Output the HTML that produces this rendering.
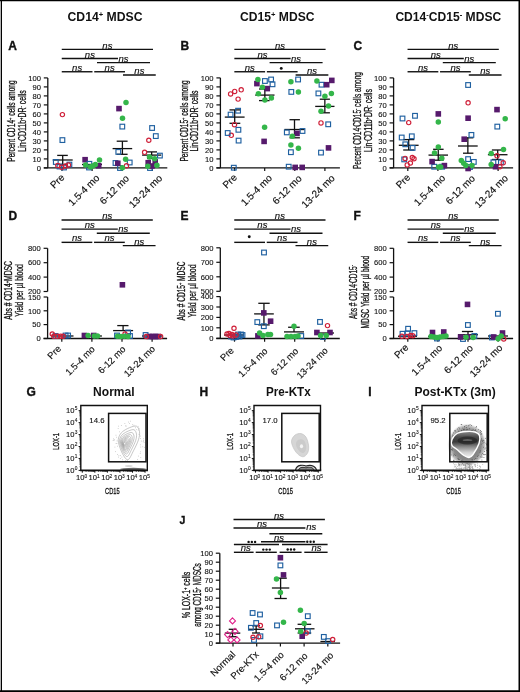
<!DOCTYPE html><html><head><meta charset="utf-8"><style>html,body{margin:0;padding:0;background:#fff;}svg{display:block;will-change:transform;}</style></head><body>
<svg width="520" height="692" viewBox="0 0 520 692" font-family='"Liberation Sans", sans-serif' fill="#111">
<rect width="520" height="692" fill="#fff"/>
<line x1="1.35" y1="0" x2="1.35" y2="692" stroke="#000" stroke-width="1.3"/>
<line x1="0" y1="0.55" x2="520" y2="0.55" stroke="#000" stroke-width="1.2"/>
<line x1="519.25" y1="0" x2="519.25" y2="692" stroke="#000" stroke-width="1.5"/>
<line x1="0" y1="691.1" x2="520" y2="691.1" stroke="#000" stroke-width="1.8"/>
<text x="67.5" y="21.3" font-size="12" font-weight="bold" textLength="75" lengthAdjust="spacingAndGlyphs">CD14<tspan font-size="7.5" dy="-4">+</tspan><tspan dy="4"> MDSC</tspan></text>
<text x="240" y="21.3" font-size="12" font-weight="bold" textLength="74.5" lengthAdjust="spacingAndGlyphs">CD15<tspan font-size="7.5" dy="-4">+</tspan><tspan dy="4"> MDSC</tspan></text>
<text x="395.4" y="21.3" font-size="12" font-weight="bold" textLength="105.8" lengthAdjust="spacingAndGlyphs">CD14<tspan font-size="7.5" dy="-4">-</tspan><tspan dy="4">CD15</tspan><tspan font-size="7.5" dy="-4">-</tspan><tspan dy="4"> MDSC</tspan></text>
<text x="8.2" y="49.6" font-size="12" font-weight="bold" stroke="#111" stroke-width="0.35">A</text>
<text x="180.6" y="49.5" font-size="12" font-weight="bold" stroke="#111" stroke-width="0.35">B</text>
<text x="353.6" y="49.5" font-size="12" font-weight="bold" stroke="#111" stroke-width="0.35">C</text>
<text x="8.6" y="220.2" font-size="12" font-weight="bold" stroke="#111" stroke-width="0.35">D</text>
<text x="180.6" y="220.2" font-size="12" font-weight="bold" stroke="#111" stroke-width="0.35">E</text>
<text x="353.6" y="220.2" font-size="12" font-weight="bold" stroke="#111" stroke-width="0.35">F</text>
<text x="26.6" y="396.3" font-size="12" font-weight="bold" stroke="#111" stroke-width="0.35">G</text>
<text x="199.6" y="396.3" font-size="12" font-weight="bold" stroke="#111" stroke-width="0.35">H</text>
<text x="368.3" y="396.3" font-size="12" font-weight="bold" stroke="#111" stroke-width="0.35">I</text>
<text x="179.6" y="524.4" font-size="10.5" font-weight="bold" stroke="#111" stroke-width="0.35">J</text>
<line x1="47.8" y1="77.9" x2="47.8" y2="167.9" stroke="#111" stroke-width="1.3"/>
<line x1="43.8" y1="167.9" x2="47.8" y2="167.9" stroke="#111" stroke-width="1.2"/>
<text x="40.9" y="170.6" font-size="7.6" text-anchor="end" stroke="#111" stroke-width="0.12">0</text>
<line x1="43.8" y1="158.9" x2="47.8" y2="158.9" stroke="#111" stroke-width="1.2"/>
<text x="40.9" y="161.6" font-size="7.6" text-anchor="end" stroke="#111" stroke-width="0.12">10</text>
<line x1="43.8" y1="149.9" x2="47.8" y2="149.9" stroke="#111" stroke-width="1.2"/>
<text x="40.9" y="152.6" font-size="7.6" text-anchor="end" stroke="#111" stroke-width="0.12">20</text>
<line x1="43.8" y1="140.9" x2="47.8" y2="140.9" stroke="#111" stroke-width="1.2"/>
<text x="40.9" y="143.6" font-size="7.6" text-anchor="end" stroke="#111" stroke-width="0.12">30</text>
<line x1="43.8" y1="131.9" x2="47.8" y2="131.9" stroke="#111" stroke-width="1.2"/>
<text x="40.9" y="134.6" font-size="7.6" text-anchor="end" stroke="#111" stroke-width="0.12">40</text>
<line x1="43.8" y1="122.9" x2="47.8" y2="122.9" stroke="#111" stroke-width="1.2"/>
<text x="40.9" y="125.6" font-size="7.6" text-anchor="end" stroke="#111" stroke-width="0.12">50</text>
<line x1="43.8" y1="113.9" x2="47.8" y2="113.9" stroke="#111" stroke-width="1.2"/>
<text x="40.9" y="116.6" font-size="7.6" text-anchor="end" stroke="#111" stroke-width="0.12">60</text>
<line x1="43.8" y1="104.9" x2="47.8" y2="104.9" stroke="#111" stroke-width="1.2"/>
<text x="40.9" y="107.6" font-size="7.6" text-anchor="end" stroke="#111" stroke-width="0.12">70</text>
<line x1="43.8" y1="95.9" x2="47.8" y2="95.9" stroke="#111" stroke-width="1.2"/>
<text x="40.9" y="98.6" font-size="7.6" text-anchor="end" stroke="#111" stroke-width="0.12">80</text>
<line x1="43.8" y1="86.9" x2="47.8" y2="86.9" stroke="#111" stroke-width="1.2"/>
<text x="40.9" y="89.6" font-size="7.6" text-anchor="end" stroke="#111" stroke-width="0.12">90</text>
<line x1="43.8" y1="77.9" x2="47.8" y2="77.9" stroke="#111" stroke-width="1.2"/>
<text x="40.9" y="80.6" font-size="7.6" text-anchor="end" stroke="#111" stroke-width="0.12">100</text>
<line x1="43.8" y1="167.9" x2="167.3" y2="167.9" stroke="#111" stroke-width="1.3"/>
<line x1="62" y1="167.9" x2="62" y2="171.1" stroke="#111" stroke-width="1.2"/>
<line x1="92.1" y1="167.9" x2="92.1" y2="171.1" stroke="#111" stroke-width="1.2"/>
<line x1="122.2" y1="167.9" x2="122.2" y2="171.1" stroke="#111" stroke-width="1.2"/>
<line x1="152.3" y1="167.9" x2="152.3" y2="171.1" stroke="#111" stroke-width="1.2"/>
<text x="65.2" y="178.1" font-size="10" text-anchor="end" transform="rotate(-45 65.2 178.1)" stroke="#111" stroke-width="0.15">Pre</text>
<text x="100.2" y="178.6" font-size="10" text-anchor="end" transform="rotate(-45 100.2 178.6)" stroke="#111" stroke-width="0.15">1.5-4 mo</text>
<text x="129.8" y="179.1" font-size="10" text-anchor="end" transform="rotate(-45 129.8 179.1)" stroke="#111" stroke-width="0.15">6-12 mo</text>
<text x="162.9" y="178.7" font-size="10" text-anchor="end" transform="rotate(-45 162.9 178.7)" stroke="#111" stroke-width="0.15">13-24 mo</text>
<line x1="220.4" y1="77.9" x2="220.4" y2="167.9" stroke="#111" stroke-width="1.3"/>
<line x1="216.4" y1="167.9" x2="220.4" y2="167.9" stroke="#111" stroke-width="1.2"/>
<text x="213.5" y="170.6" font-size="7.6" text-anchor="end" stroke="#111" stroke-width="0.12">0</text>
<line x1="216.4" y1="158.9" x2="220.4" y2="158.9" stroke="#111" stroke-width="1.2"/>
<text x="213.5" y="161.6" font-size="7.6" text-anchor="end" stroke="#111" stroke-width="0.12">10</text>
<line x1="216.4" y1="149.9" x2="220.4" y2="149.9" stroke="#111" stroke-width="1.2"/>
<text x="213.5" y="152.6" font-size="7.6" text-anchor="end" stroke="#111" stroke-width="0.12">20</text>
<line x1="216.4" y1="140.9" x2="220.4" y2="140.9" stroke="#111" stroke-width="1.2"/>
<text x="213.5" y="143.6" font-size="7.6" text-anchor="end" stroke="#111" stroke-width="0.12">30</text>
<line x1="216.4" y1="131.9" x2="220.4" y2="131.9" stroke="#111" stroke-width="1.2"/>
<text x="213.5" y="134.6" font-size="7.6" text-anchor="end" stroke="#111" stroke-width="0.12">40</text>
<line x1="216.4" y1="122.9" x2="220.4" y2="122.9" stroke="#111" stroke-width="1.2"/>
<text x="213.5" y="125.6" font-size="7.6" text-anchor="end" stroke="#111" stroke-width="0.12">50</text>
<line x1="216.4" y1="113.9" x2="220.4" y2="113.9" stroke="#111" stroke-width="1.2"/>
<text x="213.5" y="116.6" font-size="7.6" text-anchor="end" stroke="#111" stroke-width="0.12">60</text>
<line x1="216.4" y1="104.9" x2="220.4" y2="104.9" stroke="#111" stroke-width="1.2"/>
<text x="213.5" y="107.6" font-size="7.6" text-anchor="end" stroke="#111" stroke-width="0.12">70</text>
<line x1="216.4" y1="95.9" x2="220.4" y2="95.9" stroke="#111" stroke-width="1.2"/>
<text x="213.5" y="98.6" font-size="7.6" text-anchor="end" stroke="#111" stroke-width="0.12">80</text>
<line x1="216.4" y1="86.9" x2="220.4" y2="86.9" stroke="#111" stroke-width="1.2"/>
<text x="213.5" y="89.6" font-size="7.6" text-anchor="end" stroke="#111" stroke-width="0.12">90</text>
<line x1="216.4" y1="77.9" x2="220.4" y2="77.9" stroke="#111" stroke-width="1.2"/>
<text x="213.5" y="80.6" font-size="7.6" text-anchor="end" stroke="#111" stroke-width="0.12">100</text>
<line x1="216.4" y1="167.9" x2="339.9" y2="167.9" stroke="#111" stroke-width="1.3"/>
<line x1="234.6" y1="167.9" x2="234.6" y2="171.1" stroke="#111" stroke-width="1.2"/>
<line x1="264.7" y1="167.9" x2="264.7" y2="171.1" stroke="#111" stroke-width="1.2"/>
<line x1="294.8" y1="167.9" x2="294.8" y2="171.1" stroke="#111" stroke-width="1.2"/>
<line x1="324.9" y1="167.9" x2="324.9" y2="171.1" stroke="#111" stroke-width="1.2"/>
<text x="237.8" y="178.1" font-size="10" text-anchor="end" transform="rotate(-45 237.8 178.1)" stroke="#111" stroke-width="0.15">Pre</text>
<text x="272.8" y="178.6" font-size="10" text-anchor="end" transform="rotate(-45 272.8 178.6)" stroke="#111" stroke-width="0.15">1.5-4 mo</text>
<text x="302.4" y="179.1" font-size="10" text-anchor="end" transform="rotate(-45 302.4 179.1)" stroke="#111" stroke-width="0.15">6-12 mo</text>
<text x="335.5" y="178.7" font-size="10" text-anchor="end" transform="rotate(-45 335.5 178.7)" stroke="#111" stroke-width="0.15">13-24 mo</text>
<line x1="393.6" y1="77.9" x2="393.6" y2="167.9" stroke="#111" stroke-width="1.3"/>
<line x1="389.6" y1="167.9" x2="393.6" y2="167.9" stroke="#111" stroke-width="1.2"/>
<text x="386.7" y="170.6" font-size="7.6" text-anchor="end" stroke="#111" stroke-width="0.12">0</text>
<line x1="389.6" y1="158.9" x2="393.6" y2="158.9" stroke="#111" stroke-width="1.2"/>
<text x="386.7" y="161.6" font-size="7.6" text-anchor="end" stroke="#111" stroke-width="0.12">10</text>
<line x1="389.6" y1="149.9" x2="393.6" y2="149.9" stroke="#111" stroke-width="1.2"/>
<text x="386.7" y="152.6" font-size="7.6" text-anchor="end" stroke="#111" stroke-width="0.12">20</text>
<line x1="389.6" y1="140.9" x2="393.6" y2="140.9" stroke="#111" stroke-width="1.2"/>
<text x="386.7" y="143.6" font-size="7.6" text-anchor="end" stroke="#111" stroke-width="0.12">30</text>
<line x1="389.6" y1="131.9" x2="393.6" y2="131.9" stroke="#111" stroke-width="1.2"/>
<text x="386.7" y="134.6" font-size="7.6" text-anchor="end" stroke="#111" stroke-width="0.12">40</text>
<line x1="389.6" y1="122.9" x2="393.6" y2="122.9" stroke="#111" stroke-width="1.2"/>
<text x="386.7" y="125.6" font-size="7.6" text-anchor="end" stroke="#111" stroke-width="0.12">50</text>
<line x1="389.6" y1="113.9" x2="393.6" y2="113.9" stroke="#111" stroke-width="1.2"/>
<text x="386.7" y="116.6" font-size="7.6" text-anchor="end" stroke="#111" stroke-width="0.12">60</text>
<line x1="389.6" y1="104.9" x2="393.6" y2="104.9" stroke="#111" stroke-width="1.2"/>
<text x="386.7" y="107.6" font-size="7.6" text-anchor="end" stroke="#111" stroke-width="0.12">70</text>
<line x1="389.6" y1="95.9" x2="393.6" y2="95.9" stroke="#111" stroke-width="1.2"/>
<text x="386.7" y="98.6" font-size="7.6" text-anchor="end" stroke="#111" stroke-width="0.12">80</text>
<line x1="389.6" y1="86.9" x2="393.6" y2="86.9" stroke="#111" stroke-width="1.2"/>
<text x="386.7" y="89.6" font-size="7.6" text-anchor="end" stroke="#111" stroke-width="0.12">90</text>
<line x1="389.6" y1="77.9" x2="393.6" y2="77.9" stroke="#111" stroke-width="1.2"/>
<text x="386.7" y="80.6" font-size="7.6" text-anchor="end" stroke="#111" stroke-width="0.12">100</text>
<line x1="389.6" y1="167.9" x2="513.1" y2="167.9" stroke="#111" stroke-width="1.3"/>
<line x1="407.8" y1="167.9" x2="407.8" y2="171.1" stroke="#111" stroke-width="1.2"/>
<line x1="437.9" y1="167.9" x2="437.9" y2="171.1" stroke="#111" stroke-width="1.2"/>
<line x1="468" y1="167.9" x2="468" y2="171.1" stroke="#111" stroke-width="1.2"/>
<line x1="498.1" y1="167.9" x2="498.1" y2="171.1" stroke="#111" stroke-width="1.2"/>
<text x="411" y="178.1" font-size="10" text-anchor="end" transform="rotate(-45 411 178.1)" stroke="#111" stroke-width="0.15">Pre</text>
<text x="446" y="178.6" font-size="10" text-anchor="end" transform="rotate(-45 446 178.6)" stroke="#111" stroke-width="0.15">1.5-4 mo</text>
<text x="475.6" y="179.1" font-size="10" text-anchor="end" transform="rotate(-45 475.6 179.1)" stroke="#111" stroke-width="0.15">6-12 mo</text>
<text x="508.7" y="178.7" font-size="10" text-anchor="end" transform="rotate(-45 508.7 178.7)" stroke="#111" stroke-width="0.15">13-24 mo</text>
<line x1="61.75" y1="49.4" x2="153" y2="49.4" stroke="#111" stroke-width="1.4"/>
<text x="107.38" y="48.5" font-size="9.5" text-anchor="middle" font-style="italic" stroke="#111" stroke-width="0.15">ns</text>
<line x1="61.75" y1="58.5" x2="118" y2="58.5" stroke="#111" stroke-width="1.4"/>
<text x="89.88" y="57.6" font-size="9.5" text-anchor="middle" font-style="italic" stroke="#111" stroke-width="0.15">ns</text>
<line x1="97" y1="62.6" x2="150" y2="62.6" stroke="#111" stroke-width="1.4"/>
<text x="123.5" y="61.7" font-size="9.5" text-anchor="middle" font-style="italic" stroke="#111" stroke-width="0.15">ns</text>
<line x1="61.75" y1="71.75" x2="92.5" y2="71.75" stroke="#111" stroke-width="1.4"/>
<text x="77.12" y="70.85" font-size="9.5" text-anchor="middle" font-style="italic" stroke="#111" stroke-width="0.15">ns</text>
<line x1="94.25" y1="71.75" x2="125" y2="71.75" stroke="#111" stroke-width="1.4"/>
<text x="109.62" y="70.85" font-size="9.5" text-anchor="middle" font-style="italic" stroke="#111" stroke-width="0.15">ns</text>
<line x1="123" y1="75" x2="155.75" y2="75" stroke="#111" stroke-width="1.4"/>
<text x="139.38" y="74.1" font-size="9.5" text-anchor="middle" font-style="italic" stroke="#111" stroke-width="0.15">ns</text>
<line x1="234.35" y1="49.4" x2="325.6" y2="49.4" stroke="#111" stroke-width="1.4"/>
<text x="279.98" y="48.5" font-size="9.5" text-anchor="middle" font-style="italic" stroke="#111" stroke-width="0.15">ns</text>
<line x1="234.35" y1="58.5" x2="290.6" y2="58.5" stroke="#111" stroke-width="1.4"/>
<text x="262.48" y="57.6" font-size="9.5" text-anchor="middle" font-style="italic" stroke="#111" stroke-width="0.15">ns</text>
<line x1="269.6" y1="62.6" x2="322.6" y2="62.6" stroke="#111" stroke-width="1.4"/>
<text x="296.1" y="61.7" font-size="9.5" text-anchor="middle" font-style="italic" stroke="#111" stroke-width="0.15">ns</text>
<line x1="234.35" y1="71.75" x2="265.1" y2="71.75" stroke="#111" stroke-width="1.4"/>
<text x="249.73" y="70.85" font-size="9.5" text-anchor="middle" font-style="italic" stroke="#111" stroke-width="0.15">ns</text>
<line x1="266.85" y1="71.75" x2="297.6" y2="71.75" stroke="#111" stroke-width="1.4"/>
<line x1="295.6" y1="75" x2="328.35" y2="75" stroke="#111" stroke-width="1.4"/>
<text x="311.98" y="74.1" font-size="9.5" text-anchor="middle" font-style="italic" stroke="#111" stroke-width="0.15">ns</text>
<line x1="407.55" y1="49.4" x2="498.8" y2="49.4" stroke="#111" stroke-width="1.4"/>
<text x="453.18" y="48.5" font-size="9.5" text-anchor="middle" font-style="italic" stroke="#111" stroke-width="0.15">ns</text>
<line x1="407.55" y1="58.5" x2="463.8" y2="58.5" stroke="#111" stroke-width="1.4"/>
<text x="435.68" y="57.6" font-size="9.5" text-anchor="middle" font-style="italic" stroke="#111" stroke-width="0.15">ns</text>
<line x1="442.8" y1="62.6" x2="495.8" y2="62.6" stroke="#111" stroke-width="1.4"/>
<text x="469.3" y="61.7" font-size="9.5" text-anchor="middle" font-style="italic" stroke="#111" stroke-width="0.15">ns</text>
<line x1="407.55" y1="71.75" x2="438.3" y2="71.75" stroke="#111" stroke-width="1.4"/>
<text x="422.93" y="70.85" font-size="9.5" text-anchor="middle" font-style="italic" stroke="#111" stroke-width="0.15">ns</text>
<line x1="440.05" y1="71.75" x2="470.8" y2="71.75" stroke="#111" stroke-width="1.4"/>
<text x="455.43" y="70.85" font-size="9.5" text-anchor="middle" font-style="italic" stroke="#111" stroke-width="0.15">ns</text>
<line x1="468.8" y1="75" x2="501.55" y2="75" stroke="#111" stroke-width="1.4"/>
<text x="485.18" y="74.1" font-size="9.5" text-anchor="middle" font-style="italic" stroke="#111" stroke-width="0.15">ns</text>
<text x="15.4" y="121" font-size="10.3" text-anchor="middle" transform="rotate(-90 15.4 121)" textLength="81.6" lengthAdjust="spacingAndGlyphs" stroke="#111" stroke-width="0.3">Percent CD14<tspan font-size="6" dy="-3">+</tspan><tspan dy="3"> cells among</tspan></text>
<text x="25.8" y="121" font-size="10.3" text-anchor="middle" transform="rotate(-90 25.8 121)" textLength="61.5" lengthAdjust="spacingAndGlyphs" stroke="#111" stroke-width="0.3">Lin<tspan font-size="6" dy="-3">-</tspan><tspan dy="3">CD11b</tspan><tspan font-size="6" dy="-3">+</tspan><tspan dy="3">DR</tspan><tspan font-size="6" dy="-3">-</tspan><tspan dy="3"> cells</tspan></text>
<text x="188" y="121" font-size="10.3" text-anchor="middle" transform="rotate(-90 188 121)" textLength="81.2" lengthAdjust="spacingAndGlyphs" stroke="#111" stroke-width="0.3">Percent CD15<tspan font-size="6" dy="-3">+</tspan><tspan dy="3"> cells among</tspan></text>
<text x="198.4" y="121" font-size="10.3" text-anchor="middle" transform="rotate(-90 198.4 121)" textLength="61" lengthAdjust="spacingAndGlyphs" stroke="#111" stroke-width="0.3">Lin<tspan font-size="6" dy="-3">-</tspan><tspan dy="3">CD11b</tspan><tspan font-size="6" dy="-3">+</tspan><tspan dy="3">DR</tspan><tspan font-size="6" dy="-3">-</tspan><tspan dy="3"> cells</tspan></text>
<text x="361.2" y="120.5" font-size="10.3" text-anchor="middle" transform="rotate(-90 361.2 120.5)" textLength="97" lengthAdjust="spacingAndGlyphs" stroke="#111" stroke-width="0.3">Percent CD14<tspan font-size="6" dy="-3">-</tspan><tspan dy="3">CD15</tspan><tspan font-size="6" dy="-3">-</tspan><tspan dy="3"> cells among</tspan></text>
<text x="371.6" y="120.5" font-size="10.3" text-anchor="middle" transform="rotate(-90 371.6 120.5)" textLength="63" lengthAdjust="spacingAndGlyphs" stroke="#111" stroke-width="0.3">Lin<tspan font-size="6" dy="-3">-</tspan><tspan dy="3">CD11b</tspan><tspan font-size="6" dy="-3">+</tspan><tspan dy="3">DR</tspan><tspan font-size="6" dy="-3">-</tspan><tspan dy="3"> cells</tspan></text>
<line x1="62.7" y1="155.4" x2="62.7" y2="160" stroke="#111" stroke-width="1.3"/>
<line x1="57.2" y1="155.4" x2="67.8" y2="155.4" stroke="#111" stroke-width="1.3"/>
<line x1="62.7" y1="160" x2="62.7" y2="164.5" stroke="#111" stroke-width="1.3"/>
<line x1="57.2" y1="164.5" x2="67.8" y2="164.5" stroke="#111" stroke-width="1.3"/>
<line x1="52.7" y1="160" x2="72.7" y2="160" stroke="#111" stroke-width="1.3"/>
<line x1="82" y1="164.5" x2="102" y2="164.5" stroke="#111" stroke-width="1.3"/>
<line x1="122.4" y1="141.2" x2="122.4" y2="148.6" stroke="#111" stroke-width="1.3"/>
<line x1="116.7" y1="141.2" x2="127.6" y2="141.2" stroke="#111" stroke-width="1.3"/>
<line x1="122.4" y1="148.6" x2="122.4" y2="154.3" stroke="#111" stroke-width="1.3"/>
<line x1="116.7" y1="154.3" x2="127.6" y2="154.3" stroke="#111" stroke-width="1.3"/>
<line x1="112.6" y1="148.6" x2="132.2" y2="148.6" stroke="#111" stroke-width="1.3"/>
<line x1="151.65" y1="151.9" x2="151.65" y2="155.1" stroke="#111" stroke-width="1.3"/>
<line x1="147" y1="151.9" x2="157" y2="151.9" stroke="#111" stroke-width="1.3"/>
<line x1="151.65" y1="155.1" x2="151.65" y2="158.5" stroke="#111" stroke-width="1.3"/>
<line x1="147" y1="158.5" x2="157" y2="158.5" stroke="#111" stroke-width="1.3"/>
<line x1="142.1" y1="155.1" x2="161.2" y2="155.1" stroke="#111" stroke-width="1.3"/>
<line x1="234.7" y1="109.9" x2="234.7" y2="117.1" stroke="#111" stroke-width="1.3"/>
<line x1="229.5" y1="109.9" x2="240.3" y2="109.9" stroke="#111" stroke-width="1.3"/>
<line x1="234.7" y1="117.1" x2="234.7" y2="123.3" stroke="#111" stroke-width="1.3"/>
<line x1="229.5" y1="123.3" x2="240.3" y2="123.3" stroke="#111" stroke-width="1.3"/>
<line x1="224.8" y1="117.1" x2="244.6" y2="117.1" stroke="#111" stroke-width="1.3"/>
<line x1="264.85" y1="89" x2="264.85" y2="95.1" stroke="#111" stroke-width="1.3"/>
<line x1="259" y1="89" x2="269.6" y2="89" stroke="#111" stroke-width="1.3"/>
<line x1="264.85" y1="95.1" x2="264.85" y2="100.6" stroke="#111" stroke-width="1.3"/>
<line x1="259" y1="100.6" x2="269.6" y2="100.6" stroke="#111" stroke-width="1.3"/>
<line x1="255.2" y1="95.1" x2="274.5" y2="95.1" stroke="#111" stroke-width="1.3"/>
<line x1="294.5" y1="119.7" x2="294.5" y2="129.5" stroke="#111" stroke-width="1.3"/>
<line x1="289.5" y1="119.7" x2="299.9" y2="119.7" stroke="#111" stroke-width="1.3"/>
<line x1="294.5" y1="129.5" x2="294.5" y2="137.8" stroke="#111" stroke-width="1.3"/>
<line x1="289.5" y1="137.8" x2="299.9" y2="137.8" stroke="#111" stroke-width="1.3"/>
<line x1="284.4" y1="129.5" x2="304.6" y2="129.5" stroke="#111" stroke-width="1.3"/>
<line x1="324.85" y1="99.2" x2="324.85" y2="106.4" stroke="#111" stroke-width="1.3"/>
<line x1="319.8" y1="99.2" x2="329.9" y2="99.2" stroke="#111" stroke-width="1.3"/>
<line x1="324.85" y1="106.4" x2="324.85" y2="112.8" stroke="#111" stroke-width="1.3"/>
<line x1="319.8" y1="112.8" x2="329.9" y2="112.8" stroke="#111" stroke-width="1.3"/>
<line x1="315.2" y1="106.4" x2="334.5" y2="106.4" stroke="#111" stroke-width="1.3"/>
<line x1="408.7" y1="139.6" x2="408.7" y2="145.3" stroke="#111" stroke-width="1.3"/>
<line x1="403.2" y1="139.6" x2="414.3" y2="139.6" stroke="#111" stroke-width="1.3"/>
<line x1="408.7" y1="145.3" x2="408.7" y2="150" stroke="#111" stroke-width="1.3"/>
<line x1="403.2" y1="150" x2="414.3" y2="150" stroke="#111" stroke-width="1.3"/>
<line x1="398.8" y1="145.3" x2="418.6" y2="145.3" stroke="#111" stroke-width="1.3"/>
<line x1="438.25" y1="149.3" x2="438.25" y2="155.1" stroke="#111" stroke-width="1.3"/>
<line x1="433.1" y1="149.3" x2="443.6" y2="149.3" stroke="#111" stroke-width="1.3"/>
<line x1="438.25" y1="155.1" x2="438.25" y2="160.2" stroke="#111" stroke-width="1.3"/>
<line x1="433.1" y1="160.2" x2="443.6" y2="160.2" stroke="#111" stroke-width="1.3"/>
<line x1="428.5" y1="155.1" x2="448" y2="155.1" stroke="#111" stroke-width="1.3"/>
<line x1="467.85" y1="137.8" x2="467.85" y2="146" stroke="#111" stroke-width="1.3"/>
<line x1="463" y1="137.8" x2="473.4" y2="137.8" stroke="#111" stroke-width="1.3"/>
<line x1="467.85" y1="146" x2="467.85" y2="153.2" stroke="#111" stroke-width="1.3"/>
<line x1="463" y1="153.2" x2="473.4" y2="153.2" stroke="#111" stroke-width="1.3"/>
<line x1="458" y1="146" x2="477.7" y2="146" stroke="#111" stroke-width="1.3"/>
<line x1="497.7" y1="150" x2="497.7" y2="154.7" stroke="#111" stroke-width="1.3"/>
<line x1="491.9" y1="150" x2="501.3" y2="150" stroke="#111" stroke-width="1.3"/>
<line x1="497.7" y1="154.7" x2="497.7" y2="159.5" stroke="#111" stroke-width="1.3"/>
<line x1="491.9" y1="159.5" x2="501.3" y2="159.5" stroke="#111" stroke-width="1.3"/>
<line x1="487.9" y1="154.7" x2="507.5" y2="154.7" stroke="#111" stroke-width="1.3"/>
<line x1="47.6" y1="248.3" x2="47.6" y2="291.5" stroke="#111" stroke-width="1.3"/>
<line x1="47.6" y1="297" x2="47.6" y2="338.5" stroke="#111" stroke-width="1.3"/>
<line x1="43.6" y1="248.3" x2="47.6" y2="248.3" stroke="#111" stroke-width="1.2"/>
<text x="40.7" y="251" font-size="7.6" text-anchor="end" stroke="#111" stroke-width="0.12">800</text>
<line x1="43.6" y1="262.7" x2="47.6" y2="262.7" stroke="#111" stroke-width="1.2"/>
<text x="40.7" y="265.4" font-size="7.6" text-anchor="end" stroke="#111" stroke-width="0.12">600</text>
<line x1="43.6" y1="277.1" x2="47.6" y2="277.1" stroke="#111" stroke-width="1.2"/>
<text x="40.7" y="279.8" font-size="7.6" text-anchor="end" stroke="#111" stroke-width="0.12">400</text>
<line x1="43.6" y1="291.5" x2="47.6" y2="291.5" stroke="#111" stroke-width="1.2"/>
<text x="40.7" y="294.2" font-size="7.6" text-anchor="end" stroke="#111" stroke-width="0.12">200</text>
<line x1="43.6" y1="297" x2="47.6" y2="297" stroke="#111" stroke-width="1.2"/>
<text x="40.7" y="299.7" font-size="7.6" text-anchor="end" stroke="#111" stroke-width="0.12">150</text>
<line x1="43.6" y1="310.8" x2="47.6" y2="310.8" stroke="#111" stroke-width="1.2"/>
<text x="40.7" y="313.5" font-size="7.6" text-anchor="end" stroke="#111" stroke-width="0.12">100</text>
<line x1="43.6" y1="324.6" x2="47.6" y2="324.6" stroke="#111" stroke-width="1.2"/>
<text x="40.7" y="327.3" font-size="7.6" text-anchor="end" stroke="#111" stroke-width="0.12">50</text>
<line x1="43.6" y1="338.5" x2="47.6" y2="338.5" stroke="#111" stroke-width="1.2"/>
<text x="40.7" y="341.2" font-size="7.6" text-anchor="end" stroke="#111" stroke-width="0.12">0</text>
<line x1="43.6" y1="338.5" x2="167.1" y2="338.5" stroke="#111" stroke-width="1.3"/>
<line x1="61.8" y1="338.5" x2="61.8" y2="341.7" stroke="#111" stroke-width="1.2"/>
<line x1="91.9" y1="338.5" x2="91.9" y2="341.7" stroke="#111" stroke-width="1.2"/>
<line x1="122" y1="338.5" x2="122" y2="341.7" stroke="#111" stroke-width="1.2"/>
<line x1="152.1" y1="338.5" x2="152.1" y2="341.7" stroke="#111" stroke-width="1.2"/>
<text x="61.7" y="349.4" font-size="9.4" text-anchor="end" transform="rotate(-45 61.7 349.4)" stroke="#111" stroke-width="0.15">Pre</text>
<text x="95.5" y="349.9" font-size="9.4" text-anchor="end" transform="rotate(-45 95.5 349.9)" stroke="#111" stroke-width="0.15">1.5-4 mo</text>
<text x="126.2" y="349.9" font-size="9.4" text-anchor="end" transform="rotate(-45 126.2 349.9)" stroke="#111" stroke-width="0.15">6-12 mo</text>
<text x="155.7" y="349.5" font-size="9.4" text-anchor="end" transform="rotate(-45 155.7 349.5)" stroke="#111" stroke-width="0.15">13-24 mo</text>
<line x1="61.55" y1="220" x2="152.8" y2="220" stroke="#111" stroke-width="1.4"/>
<text x="107.18" y="219.1" font-size="9.5" text-anchor="middle" font-style="italic" stroke="#111" stroke-width="0.15">ns</text>
<line x1="61.55" y1="229.1" x2="117.8" y2="229.1" stroke="#111" stroke-width="1.4"/>
<text x="89.68" y="228.2" font-size="9.5" text-anchor="middle" font-style="italic" stroke="#111" stroke-width="0.15">ns</text>
<line x1="96.8" y1="233.2" x2="149.8" y2="233.2" stroke="#111" stroke-width="1.4"/>
<text x="123.3" y="232.3" font-size="9.5" text-anchor="middle" font-style="italic" stroke="#111" stroke-width="0.15">ns</text>
<line x1="61.55" y1="242.35" x2="92.3" y2="242.35" stroke="#111" stroke-width="1.4"/>
<text x="76.93" y="241.45" font-size="9.5" text-anchor="middle" font-style="italic" stroke="#111" stroke-width="0.15">ns</text>
<line x1="94.05" y1="242.35" x2="124.8" y2="242.35" stroke="#111" stroke-width="1.4"/>
<text x="109.43" y="241.45" font-size="9.5" text-anchor="middle" font-style="italic" stroke="#111" stroke-width="0.15">ns</text>
<line x1="122.8" y1="245.6" x2="155.55" y2="245.6" stroke="#111" stroke-width="1.4"/>
<text x="139.18" y="244.7" font-size="9.5" text-anchor="middle" font-style="italic" stroke="#111" stroke-width="0.15">ns</text>
<line x1="220.3" y1="247.8" x2="220.3" y2="291.3" stroke="#111" stroke-width="1.3"/>
<line x1="220.3" y1="296.6" x2="220.3" y2="338.3" stroke="#111" stroke-width="1.3"/>
<line x1="216.3" y1="247.8" x2="220.3" y2="247.8" stroke="#111" stroke-width="1.2"/>
<text x="213.4" y="250.5" font-size="7.6" text-anchor="end" stroke="#111" stroke-width="0.12">800</text>
<line x1="216.3" y1="262.3" x2="220.3" y2="262.3" stroke="#111" stroke-width="1.2"/>
<text x="213.4" y="265" font-size="7.6" text-anchor="end" stroke="#111" stroke-width="0.12">700</text>
<line x1="216.3" y1="276.8" x2="220.3" y2="276.8" stroke="#111" stroke-width="1.2"/>
<text x="213.4" y="279.5" font-size="7.6" text-anchor="end" stroke="#111" stroke-width="0.12">600</text>
<line x1="216.3" y1="291.3" x2="220.3" y2="291.3" stroke="#111" stroke-width="1.2"/>
<text x="213.4" y="294" font-size="7.6" text-anchor="end" stroke="#111" stroke-width="0.12">500</text>
<line x1="216.3" y1="296.6" x2="220.3" y2="296.6" stroke="#111" stroke-width="1.2"/>
<text x="213.4" y="299.3" font-size="7.6" text-anchor="end" stroke="#111" stroke-width="0.12">400</text>
<line x1="216.3" y1="307" x2="220.3" y2="307" stroke="#111" stroke-width="1.2"/>
<text x="213.4" y="309.7" font-size="7.6" text-anchor="end" stroke="#111" stroke-width="0.12">300</text>
<line x1="216.3" y1="317.4" x2="220.3" y2="317.4" stroke="#111" stroke-width="1.2"/>
<text x="213.4" y="320.1" font-size="7.6" text-anchor="end" stroke="#111" stroke-width="0.12">200</text>
<line x1="216.3" y1="327.8" x2="220.3" y2="327.8" stroke="#111" stroke-width="1.2"/>
<text x="213.4" y="330.5" font-size="7.6" text-anchor="end" stroke="#111" stroke-width="0.12">100</text>
<line x1="216.3" y1="338.3" x2="220.3" y2="338.3" stroke="#111" stroke-width="1.2"/>
<text x="213.4" y="341" font-size="7.6" text-anchor="end" stroke="#111" stroke-width="0.12">0</text>
<line x1="216.3" y1="338.5" x2="339.8" y2="338.5" stroke="#111" stroke-width="1.3"/>
<line x1="234.5" y1="338.5" x2="234.5" y2="341.7" stroke="#111" stroke-width="1.2"/>
<line x1="264.6" y1="338.5" x2="264.6" y2="341.7" stroke="#111" stroke-width="1.2"/>
<line x1="294.7" y1="338.5" x2="294.7" y2="341.7" stroke="#111" stroke-width="1.2"/>
<line x1="324.8" y1="338.5" x2="324.8" y2="341.7" stroke="#111" stroke-width="1.2"/>
<text x="234.4" y="351.2" font-size="9.4" text-anchor="end" transform="rotate(-45 234.4 351.2)" stroke="#111" stroke-width="0.15">Pre</text>
<text x="268.2" y="351.7" font-size="9.4" text-anchor="end" transform="rotate(-45 268.2 351.7)" stroke="#111" stroke-width="0.15">1.5-4 mo</text>
<text x="298.9" y="351.7" font-size="9.4" text-anchor="end" transform="rotate(-45 298.9 351.7)" stroke="#111" stroke-width="0.15">6-12 mo</text>
<text x="328.4" y="351.3" font-size="9.4" text-anchor="end" transform="rotate(-45 328.4 351.3)" stroke="#111" stroke-width="0.15">13-24 mo</text>
<line x1="234.25" y1="220" x2="325.5" y2="220" stroke="#111" stroke-width="1.4"/>
<text x="279.88" y="219.1" font-size="9.5" text-anchor="middle" font-style="italic" stroke="#111" stroke-width="0.15">ns</text>
<line x1="234.25" y1="229.1" x2="290.5" y2="229.1" stroke="#111" stroke-width="1.4"/>
<text x="262.38" y="228.2" font-size="9.5" text-anchor="middle" font-style="italic" stroke="#111" stroke-width="0.15">ns</text>
<line x1="269.5" y1="233.2" x2="322.5" y2="233.2" stroke="#111" stroke-width="1.4"/>
<text x="296" y="232.3" font-size="9.5" text-anchor="middle" font-style="italic" stroke="#111" stroke-width="0.15">ns</text>
<line x1="234.25" y1="242.35" x2="265" y2="242.35" stroke="#111" stroke-width="1.4"/>
<line x1="266.75" y1="242.35" x2="297.5" y2="242.35" stroke="#111" stroke-width="1.4"/>
<text x="282.12" y="241.45" font-size="9.5" text-anchor="middle" font-style="italic" stroke="#111" stroke-width="0.15">ns</text>
<line x1="295.5" y1="245.6" x2="328.25" y2="245.6" stroke="#111" stroke-width="1.4"/>
<text x="311.88" y="244.7" font-size="9.5" text-anchor="middle" font-style="italic" stroke="#111" stroke-width="0.15">ns</text>
<line x1="393.6" y1="248.3" x2="393.6" y2="291.5" stroke="#111" stroke-width="1.3"/>
<line x1="393.6" y1="297" x2="393.6" y2="338.5" stroke="#111" stroke-width="1.3"/>
<line x1="389.6" y1="248.3" x2="393.6" y2="248.3" stroke="#111" stroke-width="1.2"/>
<text x="386.7" y="251" font-size="7.6" text-anchor="end" stroke="#111" stroke-width="0.12">800</text>
<line x1="389.6" y1="262.7" x2="393.6" y2="262.7" stroke="#111" stroke-width="1.2"/>
<text x="386.7" y="265.4" font-size="7.6" text-anchor="end" stroke="#111" stroke-width="0.12">600</text>
<line x1="389.6" y1="277.1" x2="393.6" y2="277.1" stroke="#111" stroke-width="1.2"/>
<text x="386.7" y="279.8" font-size="7.6" text-anchor="end" stroke="#111" stroke-width="0.12">400</text>
<line x1="389.6" y1="291.5" x2="393.6" y2="291.5" stroke="#111" stroke-width="1.2"/>
<text x="386.7" y="294.2" font-size="7.6" text-anchor="end" stroke="#111" stroke-width="0.12">200</text>
<line x1="389.6" y1="297" x2="393.6" y2="297" stroke="#111" stroke-width="1.2"/>
<text x="386.7" y="299.7" font-size="7.6" text-anchor="end" stroke="#111" stroke-width="0.12">150</text>
<line x1="389.6" y1="310.8" x2="393.6" y2="310.8" stroke="#111" stroke-width="1.2"/>
<text x="386.7" y="313.5" font-size="7.6" text-anchor="end" stroke="#111" stroke-width="0.12">100</text>
<line x1="389.6" y1="324.6" x2="393.6" y2="324.6" stroke="#111" stroke-width="1.2"/>
<text x="386.7" y="327.3" font-size="7.6" text-anchor="end" stroke="#111" stroke-width="0.12">50</text>
<line x1="389.6" y1="338.5" x2="393.6" y2="338.5" stroke="#111" stroke-width="1.2"/>
<text x="386.7" y="341.2" font-size="7.6" text-anchor="end" stroke="#111" stroke-width="0.12">0</text>
<line x1="389.6" y1="338.5" x2="513.1" y2="338.5" stroke="#111" stroke-width="1.3"/>
<line x1="407.8" y1="338.5" x2="407.8" y2="341.7" stroke="#111" stroke-width="1.2"/>
<line x1="437.9" y1="338.5" x2="437.9" y2="341.7" stroke="#111" stroke-width="1.2"/>
<line x1="468" y1="338.5" x2="468" y2="341.7" stroke="#111" stroke-width="1.2"/>
<line x1="498.1" y1="338.5" x2="498.1" y2="341.7" stroke="#111" stroke-width="1.2"/>
<text x="409.2" y="348.2" font-size="9.9" text-anchor="end" transform="rotate(-45 409.2 348.2)" stroke="#111" stroke-width="0.15">Pre</text>
<text x="443" y="348.7" font-size="9.9" text-anchor="end" transform="rotate(-45 443 348.7)" stroke="#111" stroke-width="0.15">1.5-4 mo</text>
<text x="473.7" y="348.7" font-size="9.9" text-anchor="end" transform="rotate(-45 473.7 348.7)" stroke="#111" stroke-width="0.15">6-12 mo</text>
<text x="503.2" y="348.3" font-size="9.9" text-anchor="end" transform="rotate(-45 503.2 348.3)" stroke="#111" stroke-width="0.15">13-24 mo</text>
<line x1="407.55" y1="220" x2="498.8" y2="220" stroke="#111" stroke-width="1.4"/>
<text x="453.18" y="219.1" font-size="9.5" text-anchor="middle" font-style="italic" stroke="#111" stroke-width="0.15">ns</text>
<line x1="407.55" y1="229.1" x2="463.8" y2="229.1" stroke="#111" stroke-width="1.4"/>
<text x="435.68" y="228.2" font-size="9.5" text-anchor="middle" font-style="italic" stroke="#111" stroke-width="0.15">ns</text>
<line x1="442.8" y1="233.2" x2="495.8" y2="233.2" stroke="#111" stroke-width="1.4"/>
<text x="469.3" y="232.3" font-size="9.5" text-anchor="middle" font-style="italic" stroke="#111" stroke-width="0.15">ns</text>
<line x1="407.55" y1="242.35" x2="438.3" y2="242.35" stroke="#111" stroke-width="1.4"/>
<text x="422.93" y="241.45" font-size="9.5" text-anchor="middle" font-style="italic" stroke="#111" stroke-width="0.15">ns</text>
<line x1="440.05" y1="242.35" x2="470.8" y2="242.35" stroke="#111" stroke-width="1.4"/>
<text x="455.43" y="241.45" font-size="9.5" text-anchor="middle" font-style="italic" stroke="#111" stroke-width="0.15">ns</text>
<line x1="468.8" y1="245.6" x2="501.55" y2="245.6" stroke="#111" stroke-width="1.4"/>
<text x="485.18" y="244.7" font-size="9.5" text-anchor="middle" font-style="italic" stroke="#111" stroke-width="0.15">ns</text>
<text x="12.3" y="290.4" font-size="10.3" text-anchor="middle" transform="rotate(-90 12.3 290.4)" textLength="58.8" lengthAdjust="spacingAndGlyphs" stroke="#111" stroke-width="0.3">Abs # CD14<tspan font-size="6" dy="-3">+</tspan><tspan dy="3">MDSC</tspan></text>
<text x="23.4" y="290.4" font-size="10.3" text-anchor="middle" transform="rotate(-90 23.4 290.4)" textLength="52.5" lengthAdjust="spacingAndGlyphs" stroke="#111" stroke-width="0.3">Yield per µl blood</text>
<text x="185" y="291" font-size="10.3" text-anchor="middle" transform="rotate(-90 185 291)" textLength="59" lengthAdjust="spacingAndGlyphs" stroke="#111" stroke-width="0.3">Abs # CD15<tspan font-size="6" dy="-3">+</tspan><tspan dy="3"> MDSC</tspan></text>
<text x="196.1" y="291" font-size="10.3" text-anchor="middle" transform="rotate(-90 196.1 291)" textLength="53" lengthAdjust="spacingAndGlyphs" stroke="#111" stroke-width="0.3">Yield per µl blood</text>
<text x="357.3" y="292.1" font-size="10.3" text-anchor="middle" transform="rotate(-90 357.3 292.1)" textLength="54" lengthAdjust="spacingAndGlyphs" stroke="#111" stroke-width="0.3">Abs # CD14<tspan font-size="6" dy="-3">-</tspan><tspan dy="3">CD15</tspan><tspan font-size="6" dy="-3">-</tspan><tspan dy="3"></tspan></text>
<text x="369.1" y="292.1" font-size="10.3" text-anchor="middle" transform="rotate(-90 369.1 292.1)" textLength="72.7" lengthAdjust="spacingAndGlyphs" stroke="#111" stroke-width="0.3">MDSC Yield per µl blood</text>
<line x1="52" y1="336" x2="73.5" y2="336" stroke="#111" stroke-width="1.3"/>
<line x1="82.5" y1="336" x2="101.9" y2="336" stroke="#111" stroke-width="1.3"/>
<line x1="123.1" y1="325.6" x2="123.1" y2="330.6" stroke="#111" stroke-width="1.3"/>
<line x1="117.25" y1="325.6" x2="128.5" y2="325.6" stroke="#111" stroke-width="1.3"/>
<line x1="113.1" y1="330.6" x2="133.1" y2="330.6" stroke="#111" stroke-width="1.3"/>
<line x1="142" y1="336" x2="162" y2="336" stroke="#111" stroke-width="1.3"/>
<line x1="224" y1="335" x2="244" y2="335" stroke="#111" stroke-width="1.3"/>
<line x1="263.95" y1="303.3" x2="263.95" y2="313.9" stroke="#111" stroke-width="1.3"/>
<line x1="258.3" y1="303.3" x2="269.7" y2="303.3" stroke="#111" stroke-width="1.3"/>
<line x1="263.95" y1="313.9" x2="263.95" y2="324.9" stroke="#111" stroke-width="1.3"/>
<line x1="258.3" y1="324.9" x2="269.7" y2="324.9" stroke="#111" stroke-width="1.3"/>
<line x1="254.1" y1="313.9" x2="273.8" y2="313.9" stroke="#111" stroke-width="1.3"/>
<line x1="294" y1="327.25" x2="294" y2="331.9" stroke="#111" stroke-width="1.3"/>
<line x1="288.1" y1="327.25" x2="299.75" y2="327.25" stroke="#111" stroke-width="1.3"/>
<line x1="284" y1="331.9" x2="304" y2="331.9" stroke="#111" stroke-width="1.3"/>
<line x1="315" y1="333" x2="334" y2="333" stroke="#111" stroke-width="1.3"/>
<line x1="398" y1="336.25" x2="417" y2="336.25" stroke="#111" stroke-width="1.3"/>
<line x1="428" y1="336.5" x2="447" y2="336.5" stroke="#111" stroke-width="1.3"/>
<line x1="468" y1="331.5" x2="468" y2="334.75" stroke="#111" stroke-width="1.3"/>
<line x1="461.9" y1="331.5" x2="473.1" y2="331.5" stroke="#111" stroke-width="1.3"/>
<line x1="458" y1="334.75" x2="478" y2="334.75" stroke="#111" stroke-width="1.3"/>
<line x1="488" y1="336" x2="508" y2="336" stroke="#111" stroke-width="1.3"/>
<text x="93.1" y="396.3" font-size="12" font-weight="bold" textLength="41.5" lengthAdjust="spacingAndGlyphs">Normal</text>
<path d="M128 459.7C126.17 460.2 124.08 456.53 122.5 453.7C120.92 450.87 119.08 445.53 118.5 442.7C117.92 439.87 118.33 438.53 119 436.7C119.67 434.87 120.75 433.2 122.5 431.7C124.25 430.2 127.17 428.62 129.5 427.7C131.83 426.78 134.83 425.53 136.5 426.2C138.17 426.87 139.17 429.45 139.5 431.7C139.83 433.95 139.5 436.53 138.5 439.7C137.5 442.87 135.25 447.37 133.5 450.7C131.75 454.03 129.83 459.2 128 459.7Z" fill="none" stroke="#999" stroke-width="0.55"/>
<path d="M127.26 456.54C125.79 456.94 124.13 454.01 122.86 451.74C121.59 449.47 120.13 445.21 119.66 442.94C119.19 440.67 119.53 439.61 120.06 438.14C120.59 436.67 121.46 435.34 122.86 434.14C124.26 432.94 126.59 431.67 128.46 430.94C130.33 430.21 132.73 429.21 134.06 429.74C135.39 430.27 136.19 432.34 136.46 434.14C136.73 435.94 136.46 438.01 135.66 440.54C134.86 443.07 133.06 446.67 131.66 449.34C130.26 452.01 128.73 456.14 127.26 456.54Z" fill="none" stroke="#999" stroke-width="0.55"/>
<path d="M126.67 454.01C125.49 454.33 124.16 451.99 123.15 450.17C122.13 448.36 120.96 444.95 120.59 443.13C120.21 441.32 120.48 440.47 120.91 439.29C121.33 438.12 122.03 437.05 123.15 436.09C124.27 435.13 126.13 434.12 127.63 433.53C129.12 432.95 131.04 432.15 132.11 432.57C133.17 433 133.81 434.65 134.03 436.09C134.24 437.53 134.03 439.19 133.39 441.21C132.75 443.24 131.31 446.12 130.19 448.25C129.07 450.39 127.84 453.69 126.67 454.01Z" fill="none" stroke="#999" stroke-width="0.55"/>
<path d="M126.22 452.12C125.27 452.38 124.19 450.47 123.36 449C122.54 447.52 121.59 444.75 121.28 443.28C120.98 441.8 121.2 441.11 121.54 440.16C121.89 439.2 122.45 438.34 123.36 437.56C124.27 436.78 125.79 435.95 127 435.48C128.22 435 129.78 434.35 130.64 434.7C131.51 435.04 132.03 436.39 132.2 437.56C132.38 438.73 132.2 440.07 131.68 441.72C131.16 443.36 129.99 445.7 129.08 447.44C128.17 449.17 127.18 451.86 126.22 452.12Z" fill="none" stroke="#999" stroke-width="0.55"/>
<path d="M125.89 450.69C125.1 450.91 124.21 449.33 123.53 448.11C122.85 446.9 122.06 444.6 121.81 443.38C121.56 442.17 121.73 441.59 122.02 440.8C122.31 440.02 122.77 439.3 123.53 438.65C124.28 438.01 125.53 437.33 126.54 436.93C127.54 436.54 128.83 436 129.55 436.29C130.26 436.58 130.69 437.69 130.84 438.65C130.98 439.62 130.84 440.73 130.41 442.09C129.98 443.46 129.01 445.39 128.26 446.82C127.5 448.26 126.68 450.48 125.89 450.69Z" fill="none" stroke="#999" stroke-width="0.55"/>
<path d="M125.59 449.43C124.95 449.6 124.22 448.32 123.67 447.33C123.12 446.34 122.47 444.47 122.27 443.48C122.07 442.49 122.21 442.02 122.44 441.38C122.68 440.74 123.06 440.15 123.67 439.63C124.28 439.1 125.3 438.55 126.12 438.23C126.94 437.91 127.99 437.47 128.57 437.7C129.15 437.94 129.5 438.84 129.62 439.63C129.74 440.42 129.62 441.32 129.27 442.43C128.92 443.54 128.13 445.11 127.52 446.28C126.91 447.45 126.24 449.25 125.59 449.43Z" fill="none" stroke="#999" stroke-width="0.55"/>
<path d="M125.34 448.32C124.82 448.46 124.24 447.44 123.8 446.64C123.35 445.85 122.84 444.36 122.68 443.56C122.51 442.77 122.63 442.4 122.82 441.88C123 441.37 123.31 440.9 123.8 440.48C124.29 440.06 125.1 439.62 125.76 439.36C126.41 439.11 127.25 438.76 127.72 438.94C128.18 439.13 128.46 439.85 128.56 440.48C128.65 441.11 128.56 441.84 128.28 442.72C128 443.61 127.37 444.87 126.88 445.8C126.39 446.74 125.85 448.18 125.34 448.32Z" fill="none" stroke="#999" stroke-width="0.55"/>
<path d="M125.08 447.22C124.69 447.32 124.25 446.55 123.92 445.96C123.59 445.36 123.2 444.24 123.08 443.65C122.96 443.05 123.05 442.77 123.19 442.39C123.33 442 123.55 441.65 123.92 441.34C124.29 441.02 124.9 440.69 125.39 440.5C125.88 440.31 126.51 440.04 126.86 440.18C127.21 440.32 127.42 440.87 127.49 441.34C127.56 441.81 127.49 442.35 127.28 443.02C127.07 443.68 126.6 444.63 126.23 445.33C125.86 446.03 125.46 447.11 125.08 447.22Z" fill="none" stroke="#999" stroke-width="0.55"/>
<path d="M124.85 446.27C124.58 446.34 124.27 445.79 124.03 445.37C123.79 444.94 123.52 444.14 123.43 443.72C123.34 443.29 123.41 443.09 123.5 442.82C123.6 442.55 123.77 442.3 124.03 442.07C124.29 441.84 124.73 441.61 125.08 441.47C125.43 441.33 125.88 441.14 126.13 441.24C126.38 441.34 126.53 441.73 126.58 442.07C126.63 442.41 126.58 442.79 126.43 443.27C126.28 443.75 125.94 444.42 125.68 444.92C125.42 445.42 125.13 446.19 124.85 446.27Z" fill="none" stroke="#999" stroke-width="0.55"/>
<path d="M124.63 445.32C124.47 445.37 124.28 445.04 124.14 444.78C124 444.53 123.83 444.05 123.78 443.79C123.73 443.54 123.76 443.42 123.82 443.25C123.88 443.09 123.98 442.94 124.14 442.8C124.3 442.67 124.56 442.52 124.77 442.44C124.98 442.36 125.25 442.25 125.4 442.31C125.55 442.37 125.64 442.6 125.67 442.8C125.7 443 125.67 443.24 125.58 443.52C125.49 443.81 125.29 444.21 125.13 444.51C124.97 444.81 124.8 445.28 124.63 445.32Z" fill="none" stroke="#999" stroke-width="0.55"/>
<rect x="129.14" y="423.24" width="0.7" height="0.7" fill="#aaa"/>
<rect x="118.55" y="455.39" width="0.7" height="0.7" fill="#aaa"/>
<rect x="126.94" y="460.32" width="0.7" height="0.7" fill="#aaa"/>
<rect x="113.91" y="439.44" width="0.7" height="0.7" fill="#aaa"/>
<rect x="132.23" y="424.4" width="0.7" height="0.7" fill="#aaa"/>
<rect x="140.15" y="438.18" width="0.7" height="0.7" fill="#aaa"/>
<rect x="143.72" y="442.11" width="0.7" height="0.7" fill="#aaa"/>
<rect x="135.97" y="429.37" width="0.7" height="0.7" fill="#aaa"/>
<rect x="117.8" y="428.1" width="0.7" height="0.7" fill="#aaa"/>
<rect x="137.75" y="425.94" width="0.7" height="0.7" fill="#aaa"/>
<rect x="142.46" y="446.48" width="0.7" height="0.7" fill="#aaa"/>
<rect x="140.46" y="457.02" width="0.7" height="0.7" fill="#aaa"/>
<rect x="133.55" y="424.79" width="0.7" height="0.7" fill="#aaa"/>
<rect x="138.59" y="433.86" width="0.7" height="0.7" fill="#aaa"/>
<rect x="116.53" y="443.07" width="0.7" height="0.7" fill="#aaa"/>
<rect x="130.22" y="420.79" width="0.7" height="0.7" fill="#aaa"/>
<rect x="113.63" y="439.84" width="0.7" height="0.7" fill="#aaa"/>
<rect x="140.42" y="446.69" width="0.7" height="0.7" fill="#aaa"/>
<rect x="139.84" y="453.05" width="0.7" height="0.7" fill="#aaa"/>
<rect x="118.31" y="425.77" width="0.7" height="0.7" fill="#aaa"/>
<rect x="119.95" y="458.15" width="0.7" height="0.7" fill="#aaa"/>
<rect x="125.53" y="425.28" width="0.7" height="0.7" fill="#aaa"/>
<rect x="115.71" y="443.03" width="0.7" height="0.7" fill="#aaa"/>
<rect x="118.26" y="456.74" width="0.7" height="0.7" fill="#aaa"/>
<rect x="114.58" y="446.74" width="0.7" height="0.7" fill="#aaa"/>
<rect x="113.29" y="438.52" width="0.7" height="0.7" fill="#aaa"/>
<rect x="120.97" y="425.19" width="0.7" height="0.7" fill="#aaa"/>
<rect x="115.23" y="451.36" width="0.7" height="0.7" fill="#aaa"/>
<rect x="125.64" y="426.23" width="0.7" height="0.7" fill="#aaa"/>
<rect x="139.95" y="444.49" width="0.7" height="0.7" fill="#aaa"/>
<rect x="116.15" y="436.84" width="0.7" height="0.7" fill="#aaa"/>
<rect x="144.03" y="446.93" width="0.7" height="0.7" fill="#aaa"/>
<rect x="137.22" y="458.98" width="0.7" height="0.7" fill="#aaa"/>
<rect x="137.88" y="429.66" width="0.7" height="0.7" fill="#aaa"/>
<rect x="119.18" y="431.5" width="0.7" height="0.7" fill="#aaa"/>
<rect x="124.52" y="423.29" width="0.7" height="0.7" fill="#aaa"/>
<rect x="115.62" y="434.8" width="0.7" height="0.7" fill="#aaa"/>
<rect x="117.05" y="453.99" width="0.7" height="0.7" fill="#aaa"/>
<rect x="128.14" y="421.69" width="0.7" height="0.7" fill="#aaa"/>
<rect x="117.08" y="445.82" width="0.7" height="0.7" fill="#aaa"/>
<rect x="138.76" y="428.43" width="0.7" height="0.7" fill="#aaa"/>
<rect x="112.76" y="440.17" width="0.7" height="0.7" fill="#aaa"/>
<rect x="116.68" y="440.6" width="0.7" height="0.7" fill="#aaa"/>
<rect x="142.85" y="440.95" width="0.7" height="0.7" fill="#aaa"/>
<rect x="125.41" y="460.14" width="0.7" height="0.7" fill="#aaa"/>
<rect x="143.26" y="440.4" width="0.7" height="0.7" fill="#aaa"/>
<rect x="122.32" y="459.47" width="0.7" height="0.7" fill="#aaa"/>
<rect x="135.01" y="427.47" width="0.7" height="0.7" fill="#aaa"/>
<rect x="140.03" y="435.71" width="0.7" height="0.7" fill="#aaa"/>
<rect x="120.22" y="455.36" width="0.7" height="0.7" fill="#aaa"/>
<rect x="137.96" y="455.72" width="0.7" height="0.7" fill="#aaa"/>
<rect x="121.49" y="456.73" width="0.7" height="0.7" fill="#aaa"/>
<rect x="143" y="438.49" width="0.7" height="0.7" fill="#aaa"/>
<rect x="140.05" y="451.51" width="0.7" height="0.7" fill="#aaa"/>
<rect x="140.94" y="440.74" width="0.7" height="0.7" fill="#aaa"/>
<ellipse cx="133.3" cy="469.1" rx="13.5" ry="1.3" fill="#666"/>
<ellipse cx="128.8" cy="466" rx="4" ry="0.8" fill="#ccc"/>
<rect x="108.6" y="413.4" width="37.4" height="48.4" fill="none" stroke="#111" stroke-width="1.5"/>
<path d="M80.8 470.4V405.5H147.3V470.4" fill="none" stroke="#111" stroke-width="1.4"/>
<line x1="80.1" y1="470.4" x2="148" y2="470.4" stroke="#111" stroke-width="1.6"/>
<text x="89.3" y="422.7" font-size="7.8" stroke="#111" stroke-width="0.12">14.6</text>
<line x1="78.6" y1="470.4" x2="80.8" y2="470.4" stroke="#111" stroke-width="1.0"/>
<text x="74.5" y="473" font-size="7.6" text-anchor="end" stroke="#111" stroke-width="0.12">10</text>
<text x="74.8" y="470.2" font-size="4.8" stroke="#111" stroke-width="0.1">0</text>
<line x1="79.5" y1="466.8" x2="80.8" y2="466.8" stroke="#111" stroke-width="0.8"/>
<line x1="79.5" y1="464.7" x2="80.8" y2="464.7" stroke="#111" stroke-width="0.8"/>
<line x1="79.5" y1="463.21" x2="80.8" y2="463.21" stroke="#111" stroke-width="0.8"/>
<line x1="79.5" y1="462.05" x2="80.8" y2="462.05" stroke="#111" stroke-width="0.8"/>
<line x1="79.5" y1="461.1" x2="80.8" y2="461.1" stroke="#111" stroke-width="0.8"/>
<line x1="79.5" y1="460.3" x2="80.8" y2="460.3" stroke="#111" stroke-width="0.8"/>
<line x1="79.5" y1="459.61" x2="80.8" y2="459.61" stroke="#111" stroke-width="0.8"/>
<line x1="79.5" y1="459" x2="80.8" y2="459" stroke="#111" stroke-width="0.8"/>
<line x1="78.6" y1="458.45" x2="80.8" y2="458.45" stroke="#111" stroke-width="1.0"/>
<text x="74.5" y="461.05" font-size="7.6" text-anchor="end" stroke="#111" stroke-width="0.12">10</text>
<text x="74.8" y="458.25" font-size="4.8" stroke="#111" stroke-width="0.1">1</text>
<line x1="79.5" y1="454.85" x2="80.8" y2="454.85" stroke="#111" stroke-width="0.8"/>
<line x1="79.5" y1="452.75" x2="80.8" y2="452.75" stroke="#111" stroke-width="0.8"/>
<line x1="79.5" y1="451.26" x2="80.8" y2="451.26" stroke="#111" stroke-width="0.8"/>
<line x1="79.5" y1="450.1" x2="80.8" y2="450.1" stroke="#111" stroke-width="0.8"/>
<line x1="79.5" y1="449.15" x2="80.8" y2="449.15" stroke="#111" stroke-width="0.8"/>
<line x1="79.5" y1="448.35" x2="80.8" y2="448.35" stroke="#111" stroke-width="0.8"/>
<line x1="79.5" y1="447.66" x2="80.8" y2="447.66" stroke="#111" stroke-width="0.8"/>
<line x1="79.5" y1="447.05" x2="80.8" y2="447.05" stroke="#111" stroke-width="0.8"/>
<line x1="78.6" y1="446.5" x2="80.8" y2="446.5" stroke="#111" stroke-width="1.0"/>
<text x="74.5" y="449.1" font-size="7.6" text-anchor="end" stroke="#111" stroke-width="0.12">10</text>
<text x="74.8" y="446.3" font-size="4.8" stroke="#111" stroke-width="0.1">2</text>
<line x1="79.5" y1="442.9" x2="80.8" y2="442.9" stroke="#111" stroke-width="0.8"/>
<line x1="79.5" y1="440.8" x2="80.8" y2="440.8" stroke="#111" stroke-width="0.8"/>
<line x1="79.5" y1="439.31" x2="80.8" y2="439.31" stroke="#111" stroke-width="0.8"/>
<line x1="79.5" y1="438.15" x2="80.8" y2="438.15" stroke="#111" stroke-width="0.8"/>
<line x1="79.5" y1="437.2" x2="80.8" y2="437.2" stroke="#111" stroke-width="0.8"/>
<line x1="79.5" y1="436.4" x2="80.8" y2="436.4" stroke="#111" stroke-width="0.8"/>
<line x1="79.5" y1="435.71" x2="80.8" y2="435.71" stroke="#111" stroke-width="0.8"/>
<line x1="79.5" y1="435.1" x2="80.8" y2="435.1" stroke="#111" stroke-width="0.8"/>
<line x1="78.6" y1="434.55" x2="80.8" y2="434.55" stroke="#111" stroke-width="1.0"/>
<text x="74.5" y="437.15" font-size="7.6" text-anchor="end" stroke="#111" stroke-width="0.12">10</text>
<text x="74.8" y="434.35" font-size="4.8" stroke="#111" stroke-width="0.1">3</text>
<line x1="79.5" y1="430.95" x2="80.8" y2="430.95" stroke="#111" stroke-width="0.8"/>
<line x1="79.5" y1="428.85" x2="80.8" y2="428.85" stroke="#111" stroke-width="0.8"/>
<line x1="79.5" y1="427.36" x2="80.8" y2="427.36" stroke="#111" stroke-width="0.8"/>
<line x1="79.5" y1="426.2" x2="80.8" y2="426.2" stroke="#111" stroke-width="0.8"/>
<line x1="79.5" y1="425.25" x2="80.8" y2="425.25" stroke="#111" stroke-width="0.8"/>
<line x1="79.5" y1="424.45" x2="80.8" y2="424.45" stroke="#111" stroke-width="0.8"/>
<line x1="79.5" y1="423.76" x2="80.8" y2="423.76" stroke="#111" stroke-width="0.8"/>
<line x1="79.5" y1="423.15" x2="80.8" y2="423.15" stroke="#111" stroke-width="0.8"/>
<line x1="78.6" y1="422.6" x2="80.8" y2="422.6" stroke="#111" stroke-width="1.0"/>
<text x="74.5" y="425.2" font-size="7.6" text-anchor="end" stroke="#111" stroke-width="0.12">10</text>
<text x="74.8" y="422.4" font-size="4.8" stroke="#111" stroke-width="0.1">4</text>
<line x1="79.5" y1="419" x2="80.8" y2="419" stroke="#111" stroke-width="0.8"/>
<line x1="79.5" y1="416.9" x2="80.8" y2="416.9" stroke="#111" stroke-width="0.8"/>
<line x1="79.5" y1="415.41" x2="80.8" y2="415.41" stroke="#111" stroke-width="0.8"/>
<line x1="79.5" y1="414.25" x2="80.8" y2="414.25" stroke="#111" stroke-width="0.8"/>
<line x1="79.5" y1="413.3" x2="80.8" y2="413.3" stroke="#111" stroke-width="0.8"/>
<line x1="79.5" y1="412.5" x2="80.8" y2="412.5" stroke="#111" stroke-width="0.8"/>
<line x1="79.5" y1="411.81" x2="80.8" y2="411.81" stroke="#111" stroke-width="0.8"/>
<line x1="79.5" y1="411.2" x2="80.8" y2="411.2" stroke="#111" stroke-width="0.8"/>
<line x1="78.6" y1="410.65" x2="80.8" y2="410.65" stroke="#111" stroke-width="1.0"/>
<text x="74.5" y="413.25" font-size="7.6" text-anchor="end" stroke="#111" stroke-width="0.12">10</text>
<text x="74.8" y="410.45" font-size="4.8" stroke="#111" stroke-width="0.1">5</text>
<line x1="82.3" y1="470.4" x2="82.3" y2="472.7" stroke="#111" stroke-width="1.0"/>
<text x="80.3" y="480.4" font-size="7.6" text-anchor="middle" stroke="#111" stroke-width="0.12">10</text>
<text x="84.4" y="477.6" font-size="4.8" stroke="#111" stroke-width="0.1">0</text>
<line x1="86.08" y1="470.4" x2="86.08" y2="471.8" stroke="#111" stroke-width="0.8"/>
<line x1="88.29" y1="470.4" x2="88.29" y2="471.8" stroke="#111" stroke-width="0.8"/>
<line x1="89.86" y1="470.4" x2="89.86" y2="471.8" stroke="#111" stroke-width="0.8"/>
<line x1="91.07" y1="470.4" x2="91.07" y2="471.8" stroke="#111" stroke-width="0.8"/>
<line x1="92.07" y1="470.4" x2="92.07" y2="471.8" stroke="#111" stroke-width="0.8"/>
<line x1="92.91" y1="470.4" x2="92.91" y2="471.8" stroke="#111" stroke-width="0.8"/>
<line x1="93.63" y1="470.4" x2="93.63" y2="471.8" stroke="#111" stroke-width="0.8"/>
<line x1="94.28" y1="470.4" x2="94.28" y2="471.8" stroke="#111" stroke-width="0.8"/>
<line x1="94.85" y1="470.4" x2="94.85" y2="472.7" stroke="#111" stroke-width="1.0"/>
<text x="92.85" y="480.4" font-size="7.6" text-anchor="middle" stroke="#111" stroke-width="0.12">10</text>
<text x="96.95" y="477.6" font-size="4.8" stroke="#111" stroke-width="0.1">1</text>
<line x1="98.63" y1="470.4" x2="98.63" y2="471.8" stroke="#111" stroke-width="0.8"/>
<line x1="100.84" y1="470.4" x2="100.84" y2="471.8" stroke="#111" stroke-width="0.8"/>
<line x1="102.41" y1="470.4" x2="102.41" y2="471.8" stroke="#111" stroke-width="0.8"/>
<line x1="103.62" y1="470.4" x2="103.62" y2="471.8" stroke="#111" stroke-width="0.8"/>
<line x1="104.62" y1="470.4" x2="104.62" y2="471.8" stroke="#111" stroke-width="0.8"/>
<line x1="105.46" y1="470.4" x2="105.46" y2="471.8" stroke="#111" stroke-width="0.8"/>
<line x1="106.18" y1="470.4" x2="106.18" y2="471.8" stroke="#111" stroke-width="0.8"/>
<line x1="106.83" y1="470.4" x2="106.83" y2="471.8" stroke="#111" stroke-width="0.8"/>
<line x1="107.4" y1="470.4" x2="107.4" y2="472.7" stroke="#111" stroke-width="1.0"/>
<text x="105.4" y="480.4" font-size="7.6" text-anchor="middle" stroke="#111" stroke-width="0.12">10</text>
<text x="109.5" y="477.6" font-size="4.8" stroke="#111" stroke-width="0.1">2</text>
<line x1="111.18" y1="470.4" x2="111.18" y2="471.8" stroke="#111" stroke-width="0.8"/>
<line x1="113.39" y1="470.4" x2="113.39" y2="471.8" stroke="#111" stroke-width="0.8"/>
<line x1="114.96" y1="470.4" x2="114.96" y2="471.8" stroke="#111" stroke-width="0.8"/>
<line x1="116.17" y1="470.4" x2="116.17" y2="471.8" stroke="#111" stroke-width="0.8"/>
<line x1="117.17" y1="470.4" x2="117.17" y2="471.8" stroke="#111" stroke-width="0.8"/>
<line x1="118.01" y1="470.4" x2="118.01" y2="471.8" stroke="#111" stroke-width="0.8"/>
<line x1="118.73" y1="470.4" x2="118.73" y2="471.8" stroke="#111" stroke-width="0.8"/>
<line x1="119.38" y1="470.4" x2="119.38" y2="471.8" stroke="#111" stroke-width="0.8"/>
<line x1="119.95" y1="470.4" x2="119.95" y2="472.7" stroke="#111" stroke-width="1.0"/>
<text x="117.95" y="480.4" font-size="7.6" text-anchor="middle" stroke="#111" stroke-width="0.12">10</text>
<text x="122.05" y="477.6" font-size="4.8" stroke="#111" stroke-width="0.1">3</text>
<line x1="123.73" y1="470.4" x2="123.73" y2="471.8" stroke="#111" stroke-width="0.8"/>
<line x1="125.94" y1="470.4" x2="125.94" y2="471.8" stroke="#111" stroke-width="0.8"/>
<line x1="127.51" y1="470.4" x2="127.51" y2="471.8" stroke="#111" stroke-width="0.8"/>
<line x1="128.72" y1="470.4" x2="128.72" y2="471.8" stroke="#111" stroke-width="0.8"/>
<line x1="129.72" y1="470.4" x2="129.72" y2="471.8" stroke="#111" stroke-width="0.8"/>
<line x1="130.56" y1="470.4" x2="130.56" y2="471.8" stroke="#111" stroke-width="0.8"/>
<line x1="131.28" y1="470.4" x2="131.28" y2="471.8" stroke="#111" stroke-width="0.8"/>
<line x1="131.93" y1="470.4" x2="131.93" y2="471.8" stroke="#111" stroke-width="0.8"/>
<line x1="132.5" y1="470.4" x2="132.5" y2="472.7" stroke="#111" stroke-width="1.0"/>
<text x="130.5" y="480.4" font-size="7.6" text-anchor="middle" stroke="#111" stroke-width="0.12">10</text>
<text x="134.6" y="477.6" font-size="4.8" stroke="#111" stroke-width="0.1">4</text>
<line x1="136.28" y1="470.4" x2="136.28" y2="471.8" stroke="#111" stroke-width="0.8"/>
<line x1="138.49" y1="470.4" x2="138.49" y2="471.8" stroke="#111" stroke-width="0.8"/>
<line x1="140.06" y1="470.4" x2="140.06" y2="471.8" stroke="#111" stroke-width="0.8"/>
<line x1="141.27" y1="470.4" x2="141.27" y2="471.8" stroke="#111" stroke-width="0.8"/>
<line x1="142.27" y1="470.4" x2="142.27" y2="471.8" stroke="#111" stroke-width="0.8"/>
<line x1="143.11" y1="470.4" x2="143.11" y2="471.8" stroke="#111" stroke-width="0.8"/>
<line x1="143.83" y1="470.4" x2="143.83" y2="471.8" stroke="#111" stroke-width="0.8"/>
<line x1="144.48" y1="470.4" x2="144.48" y2="471.8" stroke="#111" stroke-width="0.8"/>
<line x1="145.05" y1="470.4" x2="145.05" y2="472.7" stroke="#111" stroke-width="1.0"/>
<text x="143.05" y="480.4" font-size="7.6" text-anchor="middle" stroke="#111" stroke-width="0.12">10</text>
<text x="147.15" y="477.6" font-size="4.8" stroke="#111" stroke-width="0.1">5</text>
<text x="59.5" y="441.3" font-size="8.6" text-anchor="middle" transform="rotate(-90 59.5 441.3)" textLength="16.8" lengthAdjust="spacingAndGlyphs" stroke="#111" stroke-width="0.3">LOX-1</text>
<text x="112.4" y="493.9" font-size="8.6" text-anchor="middle" textLength="14.6" lengthAdjust="spacingAndGlyphs" stroke="#111" stroke-width="0.3">CD15</text>
<text x="266" y="396.3" font-size="12" font-weight="bold" textLength="44.7" lengthAdjust="spacingAndGlyphs">Pre-KTx</text>
<path d="M291.5 441.1C291.67 438.77 293.42 436.35 295 435.1C296.58 433.85 299.17 433.27 301 433.6C302.83 433.93 304.75 435.18 306 437.1C307.25 439.02 308.17 442.6 308.5 445.1C308.83 447.6 308.75 450.18 308 452.1C307.25 454.02 305.5 456.1 304 456.6C302.5 457.1 300.67 456.35 299 455.1C297.33 453.85 295.25 451.43 294 449.1C292.75 446.77 291.33 443.43 291.5 441.1Z" fill="#d6d6d6" stroke="#bdbdbd" stroke-width="0.6"/>
<path d="M295.9 443.7C296 442.3 297.05 440.85 298 440.1C298.95 439.35 300.5 439 301.6 439.2C302.7 439.4 303.85 440.15 304.6 441.3C305.35 442.45 305.9 444.6 306.1 446.1C306.3 447.6 306.25 449.15 305.8 450.3C305.35 451.45 304.3 452.7 303.4 453C302.5 453.3 301.4 452.85 300.4 452.1C299.4 451.35 298.15 449.9 297.4 448.5C296.65 447.1 295.8 445.1 295.9 443.7Z" fill="#cbcbcb" stroke="none"/>
<ellipse cx="301.5" cy="446.3" rx="1.6" ry="2" fill="#f4f4f4"/>
<path d="M295.5 470.1C296.5 464,304 465,306 466.1C309 465,315 464.5,316.5 470.1" fill="#ddd" stroke="#222" stroke-width="1.1"/>
<path d="M298.5 470.1C299.5 466.5,304 467.3,306 467.8C309 467,313 466.8,314 470.1" fill="#8a8a8a" stroke="#222" stroke-width="0.9"/>
<rect x="281.8" y="413.4" width="37.4" height="48.4" fill="none" stroke="#111" stroke-width="1.5"/>
<path d="M254 470.4V405.5H320.5V470.4" fill="none" stroke="#111" stroke-width="1.4"/>
<line x1="253.3" y1="470.4" x2="321.2" y2="470.4" stroke="#111" stroke-width="1.6"/>
<text x="262.5" y="422.7" font-size="7.8" stroke="#111" stroke-width="0.12">17.0</text>
<line x1="251.8" y1="470.4" x2="254" y2="470.4" stroke="#111" stroke-width="1.0"/>
<text x="247.7" y="473" font-size="7.6" text-anchor="end" stroke="#111" stroke-width="0.12">10</text>
<text x="248" y="470.2" font-size="4.8" stroke="#111" stroke-width="0.1">0</text>
<line x1="252.7" y1="466.8" x2="254" y2="466.8" stroke="#111" stroke-width="0.8"/>
<line x1="252.7" y1="464.7" x2="254" y2="464.7" stroke="#111" stroke-width="0.8"/>
<line x1="252.7" y1="463.21" x2="254" y2="463.21" stroke="#111" stroke-width="0.8"/>
<line x1="252.7" y1="462.05" x2="254" y2="462.05" stroke="#111" stroke-width="0.8"/>
<line x1="252.7" y1="461.1" x2="254" y2="461.1" stroke="#111" stroke-width="0.8"/>
<line x1="252.7" y1="460.3" x2="254" y2="460.3" stroke="#111" stroke-width="0.8"/>
<line x1="252.7" y1="459.61" x2="254" y2="459.61" stroke="#111" stroke-width="0.8"/>
<line x1="252.7" y1="459" x2="254" y2="459" stroke="#111" stroke-width="0.8"/>
<line x1="251.8" y1="458.45" x2="254" y2="458.45" stroke="#111" stroke-width="1.0"/>
<text x="247.7" y="461.05" font-size="7.6" text-anchor="end" stroke="#111" stroke-width="0.12">10</text>
<text x="248" y="458.25" font-size="4.8" stroke="#111" stroke-width="0.1">1</text>
<line x1="252.7" y1="454.85" x2="254" y2="454.85" stroke="#111" stroke-width="0.8"/>
<line x1="252.7" y1="452.75" x2="254" y2="452.75" stroke="#111" stroke-width="0.8"/>
<line x1="252.7" y1="451.26" x2="254" y2="451.26" stroke="#111" stroke-width="0.8"/>
<line x1="252.7" y1="450.1" x2="254" y2="450.1" stroke="#111" stroke-width="0.8"/>
<line x1="252.7" y1="449.15" x2="254" y2="449.15" stroke="#111" stroke-width="0.8"/>
<line x1="252.7" y1="448.35" x2="254" y2="448.35" stroke="#111" stroke-width="0.8"/>
<line x1="252.7" y1="447.66" x2="254" y2="447.66" stroke="#111" stroke-width="0.8"/>
<line x1="252.7" y1="447.05" x2="254" y2="447.05" stroke="#111" stroke-width="0.8"/>
<line x1="251.8" y1="446.5" x2="254" y2="446.5" stroke="#111" stroke-width="1.0"/>
<text x="247.7" y="449.1" font-size="7.6" text-anchor="end" stroke="#111" stroke-width="0.12">10</text>
<text x="248" y="446.3" font-size="4.8" stroke="#111" stroke-width="0.1">2</text>
<line x1="252.7" y1="442.9" x2="254" y2="442.9" stroke="#111" stroke-width="0.8"/>
<line x1="252.7" y1="440.8" x2="254" y2="440.8" stroke="#111" stroke-width="0.8"/>
<line x1="252.7" y1="439.31" x2="254" y2="439.31" stroke="#111" stroke-width="0.8"/>
<line x1="252.7" y1="438.15" x2="254" y2="438.15" stroke="#111" stroke-width="0.8"/>
<line x1="252.7" y1="437.2" x2="254" y2="437.2" stroke="#111" stroke-width="0.8"/>
<line x1="252.7" y1="436.4" x2="254" y2="436.4" stroke="#111" stroke-width="0.8"/>
<line x1="252.7" y1="435.71" x2="254" y2="435.71" stroke="#111" stroke-width="0.8"/>
<line x1="252.7" y1="435.1" x2="254" y2="435.1" stroke="#111" stroke-width="0.8"/>
<line x1="251.8" y1="434.55" x2="254" y2="434.55" stroke="#111" stroke-width="1.0"/>
<text x="247.7" y="437.15" font-size="7.6" text-anchor="end" stroke="#111" stroke-width="0.12">10</text>
<text x="248" y="434.35" font-size="4.8" stroke="#111" stroke-width="0.1">3</text>
<line x1="252.7" y1="430.95" x2="254" y2="430.95" stroke="#111" stroke-width="0.8"/>
<line x1="252.7" y1="428.85" x2="254" y2="428.85" stroke="#111" stroke-width="0.8"/>
<line x1="252.7" y1="427.36" x2="254" y2="427.36" stroke="#111" stroke-width="0.8"/>
<line x1="252.7" y1="426.2" x2="254" y2="426.2" stroke="#111" stroke-width="0.8"/>
<line x1="252.7" y1="425.25" x2="254" y2="425.25" stroke="#111" stroke-width="0.8"/>
<line x1="252.7" y1="424.45" x2="254" y2="424.45" stroke="#111" stroke-width="0.8"/>
<line x1="252.7" y1="423.76" x2="254" y2="423.76" stroke="#111" stroke-width="0.8"/>
<line x1="252.7" y1="423.15" x2="254" y2="423.15" stroke="#111" stroke-width="0.8"/>
<line x1="251.8" y1="422.6" x2="254" y2="422.6" stroke="#111" stroke-width="1.0"/>
<text x="247.7" y="425.2" font-size="7.6" text-anchor="end" stroke="#111" stroke-width="0.12">10</text>
<text x="248" y="422.4" font-size="4.8" stroke="#111" stroke-width="0.1">4</text>
<line x1="252.7" y1="419" x2="254" y2="419" stroke="#111" stroke-width="0.8"/>
<line x1="252.7" y1="416.9" x2="254" y2="416.9" stroke="#111" stroke-width="0.8"/>
<line x1="252.7" y1="415.41" x2="254" y2="415.41" stroke="#111" stroke-width="0.8"/>
<line x1="252.7" y1="414.25" x2="254" y2="414.25" stroke="#111" stroke-width="0.8"/>
<line x1="252.7" y1="413.3" x2="254" y2="413.3" stroke="#111" stroke-width="0.8"/>
<line x1="252.7" y1="412.5" x2="254" y2="412.5" stroke="#111" stroke-width="0.8"/>
<line x1="252.7" y1="411.81" x2="254" y2="411.81" stroke="#111" stroke-width="0.8"/>
<line x1="252.7" y1="411.2" x2="254" y2="411.2" stroke="#111" stroke-width="0.8"/>
<line x1="251.8" y1="410.65" x2="254" y2="410.65" stroke="#111" stroke-width="1.0"/>
<text x="247.7" y="413.25" font-size="7.6" text-anchor="end" stroke="#111" stroke-width="0.12">10</text>
<text x="248" y="410.45" font-size="4.8" stroke="#111" stroke-width="0.1">5</text>
<line x1="255.5" y1="470.4" x2="255.5" y2="472.7" stroke="#111" stroke-width="1.0"/>
<text x="253.5" y="480.4" font-size="7.6" text-anchor="middle" stroke="#111" stroke-width="0.12">10</text>
<text x="257.6" y="477.6" font-size="4.8" stroke="#111" stroke-width="0.1">0</text>
<line x1="259.28" y1="470.4" x2="259.28" y2="471.8" stroke="#111" stroke-width="0.8"/>
<line x1="261.49" y1="470.4" x2="261.49" y2="471.8" stroke="#111" stroke-width="0.8"/>
<line x1="263.06" y1="470.4" x2="263.06" y2="471.8" stroke="#111" stroke-width="0.8"/>
<line x1="264.27" y1="470.4" x2="264.27" y2="471.8" stroke="#111" stroke-width="0.8"/>
<line x1="265.27" y1="470.4" x2="265.27" y2="471.8" stroke="#111" stroke-width="0.8"/>
<line x1="266.11" y1="470.4" x2="266.11" y2="471.8" stroke="#111" stroke-width="0.8"/>
<line x1="266.83" y1="470.4" x2="266.83" y2="471.8" stroke="#111" stroke-width="0.8"/>
<line x1="267.48" y1="470.4" x2="267.48" y2="471.8" stroke="#111" stroke-width="0.8"/>
<line x1="268.05" y1="470.4" x2="268.05" y2="472.7" stroke="#111" stroke-width="1.0"/>
<text x="266.05" y="480.4" font-size="7.6" text-anchor="middle" stroke="#111" stroke-width="0.12">10</text>
<text x="270.15" y="477.6" font-size="4.8" stroke="#111" stroke-width="0.1">1</text>
<line x1="271.83" y1="470.4" x2="271.83" y2="471.8" stroke="#111" stroke-width="0.8"/>
<line x1="274.04" y1="470.4" x2="274.04" y2="471.8" stroke="#111" stroke-width="0.8"/>
<line x1="275.61" y1="470.4" x2="275.61" y2="471.8" stroke="#111" stroke-width="0.8"/>
<line x1="276.82" y1="470.4" x2="276.82" y2="471.8" stroke="#111" stroke-width="0.8"/>
<line x1="277.82" y1="470.4" x2="277.82" y2="471.8" stroke="#111" stroke-width="0.8"/>
<line x1="278.66" y1="470.4" x2="278.66" y2="471.8" stroke="#111" stroke-width="0.8"/>
<line x1="279.38" y1="470.4" x2="279.38" y2="471.8" stroke="#111" stroke-width="0.8"/>
<line x1="280.03" y1="470.4" x2="280.03" y2="471.8" stroke="#111" stroke-width="0.8"/>
<line x1="280.6" y1="470.4" x2="280.6" y2="472.7" stroke="#111" stroke-width="1.0"/>
<text x="278.6" y="480.4" font-size="7.6" text-anchor="middle" stroke="#111" stroke-width="0.12">10</text>
<text x="282.7" y="477.6" font-size="4.8" stroke="#111" stroke-width="0.1">2</text>
<line x1="284.38" y1="470.4" x2="284.38" y2="471.8" stroke="#111" stroke-width="0.8"/>
<line x1="286.59" y1="470.4" x2="286.59" y2="471.8" stroke="#111" stroke-width="0.8"/>
<line x1="288.16" y1="470.4" x2="288.16" y2="471.8" stroke="#111" stroke-width="0.8"/>
<line x1="289.37" y1="470.4" x2="289.37" y2="471.8" stroke="#111" stroke-width="0.8"/>
<line x1="290.37" y1="470.4" x2="290.37" y2="471.8" stroke="#111" stroke-width="0.8"/>
<line x1="291.21" y1="470.4" x2="291.21" y2="471.8" stroke="#111" stroke-width="0.8"/>
<line x1="291.93" y1="470.4" x2="291.93" y2="471.8" stroke="#111" stroke-width="0.8"/>
<line x1="292.58" y1="470.4" x2="292.58" y2="471.8" stroke="#111" stroke-width="0.8"/>
<line x1="293.15" y1="470.4" x2="293.15" y2="472.7" stroke="#111" stroke-width="1.0"/>
<text x="291.15" y="480.4" font-size="7.6" text-anchor="middle" stroke="#111" stroke-width="0.12">10</text>
<text x="295.25" y="477.6" font-size="4.8" stroke="#111" stroke-width="0.1">3</text>
<line x1="296.93" y1="470.4" x2="296.93" y2="471.8" stroke="#111" stroke-width="0.8"/>
<line x1="299.14" y1="470.4" x2="299.14" y2="471.8" stroke="#111" stroke-width="0.8"/>
<line x1="300.71" y1="470.4" x2="300.71" y2="471.8" stroke="#111" stroke-width="0.8"/>
<line x1="301.92" y1="470.4" x2="301.92" y2="471.8" stroke="#111" stroke-width="0.8"/>
<line x1="302.92" y1="470.4" x2="302.92" y2="471.8" stroke="#111" stroke-width="0.8"/>
<line x1="303.76" y1="470.4" x2="303.76" y2="471.8" stroke="#111" stroke-width="0.8"/>
<line x1="304.48" y1="470.4" x2="304.48" y2="471.8" stroke="#111" stroke-width="0.8"/>
<line x1="305.13" y1="470.4" x2="305.13" y2="471.8" stroke="#111" stroke-width="0.8"/>
<line x1="305.7" y1="470.4" x2="305.7" y2="472.7" stroke="#111" stroke-width="1.0"/>
<text x="303.7" y="480.4" font-size="7.6" text-anchor="middle" stroke="#111" stroke-width="0.12">10</text>
<text x="307.8" y="477.6" font-size="4.8" stroke="#111" stroke-width="0.1">4</text>
<line x1="309.48" y1="470.4" x2="309.48" y2="471.8" stroke="#111" stroke-width="0.8"/>
<line x1="311.69" y1="470.4" x2="311.69" y2="471.8" stroke="#111" stroke-width="0.8"/>
<line x1="313.26" y1="470.4" x2="313.26" y2="471.8" stroke="#111" stroke-width="0.8"/>
<line x1="314.47" y1="470.4" x2="314.47" y2="471.8" stroke="#111" stroke-width="0.8"/>
<line x1="315.47" y1="470.4" x2="315.47" y2="471.8" stroke="#111" stroke-width="0.8"/>
<line x1="316.31" y1="470.4" x2="316.31" y2="471.8" stroke="#111" stroke-width="0.8"/>
<line x1="317.03" y1="470.4" x2="317.03" y2="471.8" stroke="#111" stroke-width="0.8"/>
<line x1="317.68" y1="470.4" x2="317.68" y2="471.8" stroke="#111" stroke-width="0.8"/>
<line x1="318.25" y1="470.4" x2="318.25" y2="472.7" stroke="#111" stroke-width="1.0"/>
<text x="316.25" y="480.4" font-size="7.6" text-anchor="middle" stroke="#111" stroke-width="0.12">10</text>
<text x="320.35" y="477.6" font-size="4.8" stroke="#111" stroke-width="0.1">5</text>
<text x="232.7" y="441.3" font-size="8.6" text-anchor="middle" transform="rotate(-90 232.7 441.3)" textLength="16.8" lengthAdjust="spacingAndGlyphs" stroke="#111" stroke-width="0.3">LOX-1</text>
<text x="285.6" y="493.9" font-size="8.6" text-anchor="middle" textLength="14.6" lengthAdjust="spacingAndGlyphs" stroke="#111" stroke-width="0.3">CD15</text>
<text x="414.4" y="396.3" font-size="12" font-weight="bold" textLength="81.3" lengthAdjust="spacingAndGlyphs">Post-KTx (3m)</text>
<defs><radialGradient id="sp" cx="0.5" cy="0.5" r="0.5"><stop offset="0" stop-color="#6a6a6a"/><stop offset="0.7" stop-color="#8a8a8a"/><stop offset="0.88" stop-color="#c8c8c8"/><stop offset="1" stop-color="#fff" stop-opacity="0"/></radialGradient><linearGradient id="core" x1="0" y1="0" x2="0" y2="1"><stop offset="0" stop-color="#8a8a8a"/><stop offset="0.22" stop-color="#4a4a4a"/><stop offset="0.4" stop-color="#3a3a3a"/><stop offset="0.6" stop-color="#8c8c8c"/><stop offset="0.8" stop-color="#cfcfcf"/><stop offset="1" stop-color="#f2f2f2"/></linearGradient></defs>
<ellipse cx="467" cy="445" rx="20" ry="22" fill="url(#sp)"/>
<rect x="474.08" y="430.41" width="0.8" height="0.8" fill="#555"/>
<rect x="483.57" y="442.17" width="0.8" height="0.8" fill="#555"/>
<rect x="481.76" y="456.73" width="0.8" height="0.8" fill="#555"/>
<rect x="461.01" y="429.99" width="0.8" height="0.8" fill="#555"/>
<rect x="482.11" y="441.01" width="0.8" height="0.8" fill="#555"/>
<rect x="479.96" y="440.65" width="0.8" height="0.8" fill="#555"/>
<rect x="480.74" y="456.7" width="0.8" height="0.8" fill="#555"/>
<rect x="475.81" y="430.94" width="0.8" height="0.8" fill="#555"/>
<rect x="459.09" y="428.46" width="0.8" height="0.8" fill="#555"/>
<rect x="460.79" y="424.14" width="0.8" height="0.8" fill="#555"/>
<rect x="451.65" y="440.87" width="0.8" height="0.8" fill="#555"/>
<rect x="486.7" y="444.77" width="0.8" height="0.8" fill="#555"/>
<rect x="462.38" y="459.8" width="0.8" height="0.8" fill="#555"/>
<rect x="481" y="439.71" width="0.8" height="0.8" fill="#555"/>
<rect x="460.97" y="430.44" width="0.8" height="0.8" fill="#555"/>
<rect x="482.07" y="439.87" width="0.8" height="0.8" fill="#555"/>
<rect x="452.91" y="443.22" width="0.8" height="0.8" fill="#555"/>
<rect x="458.99" y="459.1" width="0.8" height="0.8" fill="#555"/>
<rect x="467.84" y="425.49" width="0.8" height="0.8" fill="#555"/>
<rect x="481.26" y="454.55" width="0.8" height="0.8" fill="#555"/>
<rect x="469.71" y="424.35" width="0.8" height="0.8" fill="#555"/>
<rect x="464.18" y="426.18" width="0.8" height="0.8" fill="#555"/>
<rect x="452.24" y="448.61" width="0.8" height="0.8" fill="#555"/>
<rect x="454.33" y="454.37" width="0.8" height="0.8" fill="#555"/>
<rect x="453.53" y="459.76" width="0.8" height="0.8" fill="#555"/>
<rect x="475.22" y="458.03" width="0.8" height="0.8" fill="#555"/>
<rect x="485.65" y="442.85" width="0.8" height="0.8" fill="#555"/>
<rect x="473.14" y="431.63" width="0.8" height="0.8" fill="#555"/>
<rect x="458.47" y="427.27" width="0.8" height="0.8" fill="#555"/>
<rect x="451.01" y="443.81" width="0.8" height="0.8" fill="#555"/>
<rect x="453.06" y="455.45" width="0.8" height="0.8" fill="#555"/>
<rect x="471.1" y="425.13" width="0.8" height="0.8" fill="#555"/>
<rect x="480.06" y="430.26" width="0.8" height="0.8" fill="#555"/>
<rect x="453.84" y="460.69" width="0.8" height="0.8" fill="#555"/>
<rect x="450.92" y="449.14" width="0.8" height="0.8" fill="#555"/>
<rect x="455.21" y="436.14" width="0.8" height="0.8" fill="#555"/>
<rect x="483.07" y="439.87" width="0.8" height="0.8" fill="#555"/>
<rect x="484.09" y="451.1" width="0.8" height="0.8" fill="#555"/>
<rect x="453.01" y="459.96" width="0.8" height="0.8" fill="#555"/>
<rect x="484.22" y="454.34" width="0.8" height="0.8" fill="#555"/>
<rect x="454.74" y="430.4" width="0.8" height="0.8" fill="#555"/>
<rect x="453.52" y="453.65" width="0.8" height="0.8" fill="#555"/>
<rect x="454.43" y="435.28" width="0.8" height="0.8" fill="#555"/>
<rect x="480.65" y="434.09" width="0.8" height="0.8" fill="#555"/>
<rect x="468.59" y="424.88" width="0.8" height="0.8" fill="#555"/>
<rect x="479.57" y="452.24" width="0.8" height="0.8" fill="#555"/>
<rect x="484.84" y="454.21" width="0.8" height="0.8" fill="#555"/>
<rect x="451.43" y="448.92" width="0.8" height="0.8" fill="#555"/>
<rect x="463.41" y="428.96" width="0.8" height="0.8" fill="#555"/>
<rect x="477.77" y="454.9" width="0.8" height="0.8" fill="#555"/>
<rect x="476.55" y="458.31" width="0.8" height="0.8" fill="#555"/>
<rect x="451.86" y="436.39" width="0.8" height="0.8" fill="#555"/>
<rect x="480.85" y="443.76" width="0.8" height="0.8" fill="#555"/>
<rect x="484.94" y="437.9" width="0.8" height="0.8" fill="#555"/>
<rect x="479.85" y="450.45" width="0.8" height="0.8" fill="#555"/>
<rect x="457.94" y="458.66" width="0.8" height="0.8" fill="#555"/>
<rect x="458.1" y="430.77" width="0.8" height="0.8" fill="#555"/>
<rect x="464.43" y="426.67" width="0.8" height="0.8" fill="#555"/>
<rect x="457.53" y="457.97" width="0.8" height="0.8" fill="#555"/>
<rect x="458.79" y="431.49" width="0.8" height="0.8" fill="#555"/>
<rect x="452.21" y="445.75" width="0.8" height="0.8" fill="#555"/>
<rect x="457.08" y="428.63" width="0.8" height="0.8" fill="#555"/>
<rect x="465.85" y="429.67" width="0.8" height="0.8" fill="#555"/>
<rect x="452.57" y="435.71" width="0.8" height="0.8" fill="#555"/>
<rect x="453.06" y="435.25" width="0.8" height="0.8" fill="#555"/>
<rect x="478.31" y="429.22" width="0.8" height="0.8" fill="#555"/>
<rect x="466.64" y="429.42" width="0.8" height="0.8" fill="#555"/>
<rect x="455.18" y="455.08" width="0.8" height="0.8" fill="#555"/>
<rect x="483.54" y="440.57" width="0.8" height="0.8" fill="#555"/>
<rect x="482.97" y="454.25" width="0.8" height="0.8" fill="#555"/>
<rect x="483.02" y="446.81" width="0.8" height="0.8" fill="#555"/>
<rect x="474.27" y="458.86" width="0.8" height="0.8" fill="#555"/>
<rect x="461.34" y="424.27" width="0.8" height="0.8" fill="#555"/>
<rect x="486.36" y="444.08" width="0.8" height="0.8" fill="#555"/>
<rect x="475.62" y="426.94" width="0.8" height="0.8" fill="#555"/>
<rect x="471.58" y="459.51" width="0.8" height="0.8" fill="#555"/>
<rect x="476.62" y="460.67" width="0.8" height="0.8" fill="#555"/>
<rect x="484.59" y="448.59" width="0.8" height="0.8" fill="#555"/>
<rect x="486.17" y="450.05" width="0.8" height="0.8" fill="#555"/>
<rect x="465.73" y="424.98" width="0.8" height="0.8" fill="#555"/>
<rect x="450.81" y="454.56" width="0.8" height="0.8" fill="#555"/>
<rect x="480.8" y="432.82" width="0.8" height="0.8" fill="#555"/>
<rect x="471.4" y="430.34" width="0.8" height="0.8" fill="#555"/>
<rect x="457.86" y="432.79" width="0.8" height="0.8" fill="#555"/>
<rect x="453.48" y="442.44" width="0.8" height="0.8" fill="#555"/>
<rect x="475.21" y="429.43" width="0.8" height="0.8" fill="#555"/>
<rect x="452.17" y="434.66" width="0.8" height="0.8" fill="#555"/>
<rect x="451.81" y="449.85" width="0.8" height="0.8" fill="#555"/>
<rect x="475.05" y="430.24" width="0.8" height="0.8" fill="#555"/>
<rect x="476.07" y="426.01" width="0.8" height="0.8" fill="#555"/>
<rect x="480.18" y="432.28" width="0.8" height="0.8" fill="#555"/>
<rect x="481.16" y="438.44" width="0.8" height="0.8" fill="#555"/>
<rect x="472.73" y="428.89" width="0.8" height="0.8" fill="#555"/>
<rect x="463.04" y="429.27" width="0.8" height="0.8" fill="#555"/>
<rect x="482.28" y="453.02" width="0.8" height="0.8" fill="#555"/>
<rect x="469.02" y="428.36" width="0.8" height="0.8" fill="#555"/>
<rect x="466.8" y="428.94" width="0.8" height="0.8" fill="#555"/>
<rect x="482.5" y="442.76" width="0.8" height="0.8" fill="#555"/>
<rect x="454.82" y="435.39" width="0.8" height="0.8" fill="#555"/>
<rect x="457.44" y="433.76" width="0.8" height="0.8" fill="#555"/>
<rect x="477.31" y="432.57" width="0.8" height="0.8" fill="#555"/>
<rect x="454.72" y="431.38" width="0.8" height="0.8" fill="#555"/>
<rect x="480.93" y="431.02" width="0.8" height="0.8" fill="#555"/>
<rect x="479.74" y="430.55" width="0.8" height="0.8" fill="#555"/>
<rect x="477.15" y="456.13" width="0.8" height="0.8" fill="#555"/>
<rect x="460.95" y="460.3" width="0.8" height="0.8" fill="#555"/>
<rect x="479.88" y="450.68" width="0.8" height="0.8" fill="#555"/>
<rect x="481.4" y="433.47" width="0.8" height="0.8" fill="#555"/>
<rect x="466.21" y="427.11" width="0.8" height="0.8" fill="#555"/>
<rect x="477.2" y="432.07" width="0.8" height="0.8" fill="#555"/>
<rect x="454.57" y="430.05" width="0.8" height="0.8" fill="#555"/>
<rect x="462.44" y="427.69" width="0.8" height="0.8" fill="#555"/>
<rect x="480.16" y="439.45" width="0.8" height="0.8" fill="#555"/>
<rect x="474.32" y="432.08" width="0.8" height="0.8" fill="#555"/>
<rect x="452" y="444.4" width="0.8" height="0.8" fill="#555"/>
<rect x="457.97" y="458.9" width="0.8" height="0.8" fill="#555"/>
<rect x="481.49" y="459.63" width="0.8" height="0.8" fill="#555"/>
<rect x="485.5" y="447.57" width="0.8" height="0.8" fill="#555"/>
<rect x="472.31" y="459.49" width="0.8" height="0.8" fill="#555"/>
<rect x="476.47" y="433.57" width="0.8" height="0.8" fill="#555"/>
<rect x="464.16" y="428.8" width="0.8" height="0.8" fill="#555"/>
<rect x="472.44" y="430.47" width="0.8" height="0.8" fill="#555"/>
<rect x="480.37" y="456.46" width="0.8" height="0.8" fill="#555"/>
<rect x="452.99" y="432.54" width="0.8" height="0.8" fill="#555"/>
<rect x="483.52" y="457.09" width="0.8" height="0.8" fill="#555"/>
<path d="M452 439.5C452.83 437.5 454.67 434.83 457 433.5C459.33 432.17 463 431.75 466 431.5C469 431.25 472.75 431.33 475 432C477.25 432.67 478.83 433.58 479.5 435.5C480.17 437.42 480.08 440.33 479 443.5C477.92 446.67 474.67 452.17 473 454.5C471.33 456.83 470.5 457.33 469 457.5C467.5 457.67 466 456.83 464 455.5C462 454.17 459 451.17 457 449.5C455 447.83 452.83 447.17 452 445.5C451.17 443.83 451.17 441.5 452 439.5Z" fill="url(#core)" stroke="#fff" stroke-width="1.4"/>
<ellipse cx="467.5" cy="440.5" rx="10" ry="4" fill="#1e1e1e" opacity="0.6"/>
<ellipse cx="467.5" cy="440" rx="5" ry="0.6" fill="#aaa" opacity="0.8"/>
<rect x="466.69" y="463.14" width="0.8" height="0.8" fill="#777" opacity="0.6"/>
<rect x="465.7" y="468.78" width="0.8" height="0.8" fill="#777" opacity="0.6"/>
<rect x="458.53" y="465.06" width="0.8" height="0.8" fill="#777" opacity="0.6"/>
<rect x="471.51" y="467.23" width="0.8" height="0.8" fill="#777" opacity="0.6"/>
<rect x="460.78" y="464.54" width="0.8" height="0.8" fill="#777" opacity="0.6"/>
<rect x="467.64" y="467.35" width="0.8" height="0.8" fill="#777" opacity="0.6"/>
<rect x="468.96" y="468.64" width="0.8" height="0.8" fill="#777" opacity="0.6"/>
<rect x="480.16" y="467.38" width="0.8" height="0.8" fill="#777" opacity="0.6"/>
<rect x="465.91" y="467.68" width="0.8" height="0.8" fill="#777" opacity="0.6"/>
<rect x="474.96" y="465.95" width="0.8" height="0.8" fill="#777" opacity="0.6"/>
<rect x="467.68" y="466.43" width="0.8" height="0.8" fill="#777" opacity="0.6"/>
<rect x="466.47" y="463.04" width="0.8" height="0.8" fill="#777" opacity="0.6"/>
<rect x="472.06" y="468.4" width="0.8" height="0.8" fill="#777" opacity="0.6"/>
<rect x="465.07" y="468.65" width="0.8" height="0.8" fill="#777" opacity="0.6"/>
<rect x="465.34" y="464.78" width="0.8" height="0.8" fill="#777" opacity="0.6"/>
<rect x="470.76" y="463.9" width="0.8" height="0.8" fill="#777" opacity="0.6"/>
<rect x="469.15" y="467.22" width="0.8" height="0.8" fill="#777" opacity="0.6"/>
<rect x="455.76" y="467.81" width="0.8" height="0.8" fill="#777" opacity="0.6"/>
<rect x="452.83" y="468.77" width="0.8" height="0.8" fill="#777" opacity="0.6"/>
<rect x="466.82" y="467.73" width="0.8" height="0.8" fill="#777" opacity="0.6"/>
<rect x="466.12" y="463.18" width="0.8" height="0.8" fill="#777" opacity="0.6"/>
<rect x="474.36" y="464.32" width="0.8" height="0.8" fill="#777" opacity="0.6"/>
<rect x="469.9" y="464.57" width="0.8" height="0.8" fill="#777" opacity="0.6"/>
<rect x="463.81" y="467.82" width="0.8" height="0.8" fill="#777" opacity="0.6"/>
<rect x="463.35" y="464.34" width="0.8" height="0.8" fill="#777" opacity="0.6"/>
<rect x="455.78" y="467.15" width="0.8" height="0.8" fill="#777" opacity="0.6"/>
<rect x="465.45" y="465.68" width="0.8" height="0.8" fill="#777" opacity="0.6"/>
<rect x="457.93" y="468.17" width="0.8" height="0.8" fill="#777" opacity="0.6"/>
<rect x="472.57" y="468.25" width="0.8" height="0.8" fill="#777" opacity="0.6"/>
<rect x="462.27" y="468.82" width="0.8" height="0.8" fill="#777" opacity="0.6"/>
<rect x="469.16" y="468.73" width="0.8" height="0.8" fill="#777" opacity="0.6"/>
<rect x="470.22" y="466.52" width="0.8" height="0.8" fill="#777" opacity="0.6"/>
<rect x="458.19" y="463.48" width="0.8" height="0.8" fill="#777" opacity="0.6"/>
<rect x="455.9" y="464.48" width="0.8" height="0.8" fill="#777" opacity="0.6"/>
<rect x="465.3" y="463.57" width="0.8" height="0.8" fill="#777" opacity="0.6"/>
<rect x="460.92" y="467.76" width="0.8" height="0.8" fill="#777" opacity="0.6"/>
<rect x="462.97" y="464.47" width="0.8" height="0.8" fill="#777" opacity="0.6"/>
<rect x="465.28" y="465.65" width="0.8" height="0.8" fill="#777" opacity="0.6"/>
<rect x="467.44" y="463.28" width="0.8" height="0.8" fill="#777" opacity="0.6"/>
<rect x="464.99" y="465.67" width="0.8" height="0.8" fill="#777" opacity="0.6"/>
<rect x="468.87" y="468.42" width="0.8" height="0.8" fill="#777" opacity="0.6"/>
<rect x="464.88" y="463.76" width="0.8" height="0.8" fill="#777" opacity="0.6"/>
<rect x="467.26" y="463.04" width="0.8" height="0.8" fill="#777" opacity="0.6"/>
<rect x="454.65" y="463.88" width="0.8" height="0.8" fill="#777" opacity="0.6"/>
<rect x="460.1" y="468.27" width="0.8" height="0.8" fill="#777" opacity="0.6"/>
<rect x="456.93" y="466.17" width="0.8" height="0.8" fill="#777" opacity="0.6"/>
<rect x="456.72" y="468.03" width="0.8" height="0.8" fill="#777" opacity="0.6"/>
<rect x="469.19" y="465.26" width="0.8" height="0.8" fill="#777" opacity="0.6"/>
<rect x="460.54" y="465.24" width="0.8" height="0.8" fill="#777" opacity="0.6"/>
<rect x="467.41" y="464.68" width="0.8" height="0.8" fill="#777" opacity="0.6"/>
<rect x="459.78" y="463.88" width="0.8" height="0.8" fill="#777" opacity="0.6"/>
<rect x="456.65" y="468.03" width="0.8" height="0.8" fill="#777" opacity="0.6"/>
<rect x="471.75" y="466.43" width="0.8" height="0.8" fill="#777" opacity="0.6"/>
<rect x="467.44" y="463.05" width="0.8" height="0.8" fill="#777" opacity="0.6"/>
<rect x="458.63" y="466.63" width="0.8" height="0.8" fill="#777" opacity="0.6"/>
<rect x="471.67" y="467.07" width="0.8" height="0.8" fill="#777" opacity="0.6"/>
<rect x="455.67" y="468.58" width="0.8" height="0.8" fill="#777" opacity="0.6"/>
<rect x="459.13" y="465.04" width="0.8" height="0.8" fill="#777" opacity="0.6"/>
<rect x="468.3" y="463.98" width="0.8" height="0.8" fill="#777" opacity="0.6"/>
<rect x="462.99" y="468.56" width="0.8" height="0.8" fill="#777" opacity="0.6"/>
<rect x="482.36" y="464.22" width="0.8" height="0.8" fill="#777" opacity="0.6"/>
<rect x="457.91" y="465.28" width="0.8" height="0.8" fill="#777" opacity="0.6"/>
<rect x="457.98" y="464.27" width="0.8" height="0.8" fill="#777" opacity="0.6"/>
<rect x="468.84" y="465.59" width="0.8" height="0.8" fill="#777" opacity="0.6"/>
<rect x="469.44" y="463.19" width="0.8" height="0.8" fill="#777" opacity="0.6"/>
<rect x="470.73" y="468.6" width="0.8" height="0.8" fill="#777" opacity="0.6"/>
<rect x="466.4" y="465.84" width="0.8" height="0.8" fill="#777" opacity="0.6"/>
<rect x="468.77" y="463.9" width="0.8" height="0.8" fill="#777" opacity="0.6"/>
<rect x="469.6" y="466.09" width="0.8" height="0.8" fill="#777" opacity="0.6"/>
<rect x="465.6" y="467.86" width="0.8" height="0.8" fill="#777" opacity="0.6"/>
<rect x="479.22" y="465.53" width="0.8" height="0.8" fill="#777" opacity="0.6"/>
<rect x="465.55" y="466.73" width="0.8" height="0.8" fill="#777" opacity="0.6"/>
<rect x="462.66" y="467.93" width="0.8" height="0.8" fill="#777" opacity="0.6"/>
<rect x="458.98" y="464.23" width="0.8" height="0.8" fill="#777" opacity="0.6"/>
<rect x="461.49" y="466.67" width="0.8" height="0.8" fill="#777" opacity="0.6"/>
<rect x="462.06" y="463.12" width="0.8" height="0.8" fill="#777" opacity="0.6"/>
<rect x="479.99" y="466.37" width="0.8" height="0.8" fill="#777" opacity="0.6"/>
<rect x="474.95" y="464.23" width="0.8" height="0.8" fill="#777" opacity="0.6"/>
<rect x="467.2" y="468.97" width="0.8" height="0.8" fill="#777" opacity="0.6"/>
<rect x="464.6" y="464.62" width="0.8" height="0.8" fill="#777" opacity="0.6"/>
<rect x="474.84" y="466.42" width="0.8" height="0.8" fill="#777" opacity="0.6"/>
<rect x="468.59" y="466.21" width="0.8" height="0.8" fill="#777" opacity="0.6"/>
<rect x="474.77" y="465.17" width="0.8" height="0.8" fill="#777" opacity="0.6"/>
<rect x="455.12" y="465.8" width="0.8" height="0.8" fill="#777" opacity="0.6"/>
<rect x="460.88" y="464.4" width="0.8" height="0.8" fill="#777" opacity="0.6"/>
<rect x="454.64" y="466.01" width="0.8" height="0.8" fill="#777" opacity="0.6"/>
<rect x="459.15" y="464.1" width="0.8" height="0.8" fill="#777" opacity="0.6"/>
<rect x="460.86" y="468.44" width="0.8" height="0.8" fill="#777" opacity="0.6"/>
<rect x="464.9" y="465.25" width="0.8" height="0.8" fill="#777" opacity="0.6"/>
<rect x="468.17" y="467.04" width="0.8" height="0.8" fill="#777" opacity="0.6"/>
<rect x="476.96" y="463.41" width="0.8" height="0.8" fill="#777" opacity="0.6"/>
<rect x="479.82" y="468.92" width="0.8" height="0.8" fill="#777" opacity="0.6"/>
<rect x="469.96" y="467.65" width="0.8" height="0.8" fill="#777" opacity="0.6"/>
<rect x="465.02" y="467.1" width="0.8" height="0.8" fill="#777" opacity="0.6"/>
<rect x="479.42" y="466.06" width="0.8" height="0.8" fill="#777" opacity="0.6"/>
<rect x="466.79" y="466.69" width="0.8" height="0.8" fill="#777" opacity="0.6"/>
<rect x="471.13" y="465.5" width="0.8" height="0.8" fill="#777" opacity="0.6"/>
<rect x="468.82" y="466.77" width="0.8" height="0.8" fill="#777" opacity="0.6"/>
<rect x="467.66" y="464.13" width="0.8" height="0.8" fill="#777" opacity="0.6"/>
<rect x="466.74" y="468.41" width="0.8" height="0.8" fill="#777" opacity="0.6"/>
<rect x="453.12" y="463.32" width="0.8" height="0.8" fill="#777" opacity="0.6"/>
<rect x="459.72" y="466.42" width="0.8" height="0.8" fill="#777" opacity="0.6"/>
<rect x="453.91" y="466.61" width="0.8" height="0.8" fill="#777" opacity="0.6"/>
<rect x="459.07" y="468.09" width="0.8" height="0.8" fill="#777" opacity="0.6"/>
<rect x="462.73" y="464.83" width="0.8" height="0.8" fill="#777" opacity="0.6"/>
<rect x="479.17" y="468.45" width="0.8" height="0.8" fill="#777" opacity="0.6"/>
<rect x="463.65" y="467.07" width="0.8" height="0.8" fill="#777" opacity="0.6"/>
<rect x="464.66" y="468" width="0.8" height="0.8" fill="#777" opacity="0.6"/>
<rect x="458.65" y="463.51" width="0.8" height="0.8" fill="#777" opacity="0.6"/>
<rect x="454.08" y="464.54" width="0.8" height="0.8" fill="#777" opacity="0.6"/>
<rect x="468.62" y="467.55" width="0.8" height="0.8" fill="#777" opacity="0.6"/>
<rect x="472.3" y="466.47" width="0.8" height="0.8" fill="#777" opacity="0.6"/>
<rect x="462.18" y="463.08" width="0.8" height="0.8" fill="#777" opacity="0.6"/>
<rect x="461.81" y="463.83" width="0.8" height="0.8" fill="#777" opacity="0.6"/>
<rect x="470.09" y="467.92" width="0.8" height="0.8" fill="#777" opacity="0.6"/>
<rect x="469.55" y="468.57" width="0.8" height="0.8" fill="#777" opacity="0.6"/>
<rect x="464.52" y="466.73" width="0.8" height="0.8" fill="#777" opacity="0.6"/>
<rect x="477.01" y="467.26" width="0.8" height="0.8" fill="#777" opacity="0.6"/>
<rect x="472.13" y="468.68" width="0.8" height="0.8" fill="#777" opacity="0.6"/>
<rect x="470.61" y="463.69" width="0.8" height="0.8" fill="#777" opacity="0.6"/>
<rect x="468.6" y="464.6" width="0.8" height="0.8" fill="#777" opacity="0.6"/>
<rect x="468.79" y="466.67" width="0.8" height="0.8" fill="#777" opacity="0.6"/>
<rect x="458.88" y="468.6" width="0.8" height="0.8" fill="#777" opacity="0.6"/>
<rect x="469.37" y="465.13" width="0.8" height="0.8" fill="#777" opacity="0.6"/>
<rect x="469.28" y="467.51" width="0.8" height="0.8" fill="#777" opacity="0.6"/>
<rect x="471.89" y="466.49" width="0.8" height="0.8" fill="#777" opacity="0.6"/>
<rect x="469.51" y="468.91" width="0.8" height="0.8" fill="#777" opacity="0.6"/>
<rect x="469.4" y="463.66" width="0.8" height="0.8" fill="#777" opacity="0.6"/>
<rect x="459.02" y="464.47" width="0.8" height="0.8" fill="#777" opacity="0.6"/>
<rect x="458.09" y="463.42" width="0.8" height="0.8" fill="#777" opacity="0.6"/>
<rect x="469.44" y="466.31" width="0.8" height="0.8" fill="#777" opacity="0.6"/>
<rect x="465.09" y="467.65" width="0.8" height="0.8" fill="#777" opacity="0.6"/>
<rect x="477.02" y="465.07" width="0.8" height="0.8" fill="#777" opacity="0.6"/>
<rect x="473.37" y="468.82" width="0.8" height="0.8" fill="#777" opacity="0.6"/>
<rect x="474.39" y="464.58" width="0.8" height="0.8" fill="#777" opacity="0.6"/>
<rect x="460.59" y="467.96" width="0.8" height="0.8" fill="#777" opacity="0.6"/>
<rect x="468.71" y="463.34" width="0.8" height="0.8" fill="#777" opacity="0.6"/>
<rect x="463.65" y="464.71" width="0.8" height="0.8" fill="#777" opacity="0.6"/>
<rect x="463.62" y="464.9" width="0.8" height="0.8" fill="#777" opacity="0.6"/>
<rect x="461.07" y="468.64" width="0.8" height="0.8" fill="#777" opacity="0.6"/>
<rect x="449.8" y="413.4" width="37.4" height="48.4" fill="none" stroke="#111" stroke-width="1.5"/>
<path d="M422 470.4V405.5H488.5V470.4" fill="none" stroke="#111" stroke-width="1.4"/>
<line x1="421.3" y1="470.4" x2="489.2" y2="470.4" stroke="#111" stroke-width="1.6"/>
<text x="430.5" y="422.7" font-size="7.8" stroke="#111" stroke-width="0.12">95.2</text>
<line x1="419.8" y1="470.4" x2="422" y2="470.4" stroke="#111" stroke-width="1.0"/>
<text x="415.7" y="473" font-size="7.6" text-anchor="end" stroke="#111" stroke-width="0.12">10</text>
<text x="416" y="470.2" font-size="4.8" stroke="#111" stroke-width="0.1">0</text>
<line x1="420.7" y1="466.8" x2="422" y2="466.8" stroke="#111" stroke-width="0.8"/>
<line x1="420.7" y1="464.7" x2="422" y2="464.7" stroke="#111" stroke-width="0.8"/>
<line x1="420.7" y1="463.21" x2="422" y2="463.21" stroke="#111" stroke-width="0.8"/>
<line x1="420.7" y1="462.05" x2="422" y2="462.05" stroke="#111" stroke-width="0.8"/>
<line x1="420.7" y1="461.1" x2="422" y2="461.1" stroke="#111" stroke-width="0.8"/>
<line x1="420.7" y1="460.3" x2="422" y2="460.3" stroke="#111" stroke-width="0.8"/>
<line x1="420.7" y1="459.61" x2="422" y2="459.61" stroke="#111" stroke-width="0.8"/>
<line x1="420.7" y1="459" x2="422" y2="459" stroke="#111" stroke-width="0.8"/>
<line x1="419.8" y1="458.45" x2="422" y2="458.45" stroke="#111" stroke-width="1.0"/>
<text x="415.7" y="461.05" font-size="7.6" text-anchor="end" stroke="#111" stroke-width="0.12">10</text>
<text x="416" y="458.25" font-size="4.8" stroke="#111" stroke-width="0.1">1</text>
<line x1="420.7" y1="454.85" x2="422" y2="454.85" stroke="#111" stroke-width="0.8"/>
<line x1="420.7" y1="452.75" x2="422" y2="452.75" stroke="#111" stroke-width="0.8"/>
<line x1="420.7" y1="451.26" x2="422" y2="451.26" stroke="#111" stroke-width="0.8"/>
<line x1="420.7" y1="450.1" x2="422" y2="450.1" stroke="#111" stroke-width="0.8"/>
<line x1="420.7" y1="449.15" x2="422" y2="449.15" stroke="#111" stroke-width="0.8"/>
<line x1="420.7" y1="448.35" x2="422" y2="448.35" stroke="#111" stroke-width="0.8"/>
<line x1="420.7" y1="447.66" x2="422" y2="447.66" stroke="#111" stroke-width="0.8"/>
<line x1="420.7" y1="447.05" x2="422" y2="447.05" stroke="#111" stroke-width="0.8"/>
<line x1="419.8" y1="446.5" x2="422" y2="446.5" stroke="#111" stroke-width="1.0"/>
<text x="415.7" y="449.1" font-size="7.6" text-anchor="end" stroke="#111" stroke-width="0.12">10</text>
<text x="416" y="446.3" font-size="4.8" stroke="#111" stroke-width="0.1">2</text>
<line x1="420.7" y1="442.9" x2="422" y2="442.9" stroke="#111" stroke-width="0.8"/>
<line x1="420.7" y1="440.8" x2="422" y2="440.8" stroke="#111" stroke-width="0.8"/>
<line x1="420.7" y1="439.31" x2="422" y2="439.31" stroke="#111" stroke-width="0.8"/>
<line x1="420.7" y1="438.15" x2="422" y2="438.15" stroke="#111" stroke-width="0.8"/>
<line x1="420.7" y1="437.2" x2="422" y2="437.2" stroke="#111" stroke-width="0.8"/>
<line x1="420.7" y1="436.4" x2="422" y2="436.4" stroke="#111" stroke-width="0.8"/>
<line x1="420.7" y1="435.71" x2="422" y2="435.71" stroke="#111" stroke-width="0.8"/>
<line x1="420.7" y1="435.1" x2="422" y2="435.1" stroke="#111" stroke-width="0.8"/>
<line x1="419.8" y1="434.55" x2="422" y2="434.55" stroke="#111" stroke-width="1.0"/>
<text x="415.7" y="437.15" font-size="7.6" text-anchor="end" stroke="#111" stroke-width="0.12">10</text>
<text x="416" y="434.35" font-size="4.8" stroke="#111" stroke-width="0.1">3</text>
<line x1="420.7" y1="430.95" x2="422" y2="430.95" stroke="#111" stroke-width="0.8"/>
<line x1="420.7" y1="428.85" x2="422" y2="428.85" stroke="#111" stroke-width="0.8"/>
<line x1="420.7" y1="427.36" x2="422" y2="427.36" stroke="#111" stroke-width="0.8"/>
<line x1="420.7" y1="426.2" x2="422" y2="426.2" stroke="#111" stroke-width="0.8"/>
<line x1="420.7" y1="425.25" x2="422" y2="425.25" stroke="#111" stroke-width="0.8"/>
<line x1="420.7" y1="424.45" x2="422" y2="424.45" stroke="#111" stroke-width="0.8"/>
<line x1="420.7" y1="423.76" x2="422" y2="423.76" stroke="#111" stroke-width="0.8"/>
<line x1="420.7" y1="423.15" x2="422" y2="423.15" stroke="#111" stroke-width="0.8"/>
<line x1="419.8" y1="422.6" x2="422" y2="422.6" stroke="#111" stroke-width="1.0"/>
<text x="415.7" y="425.2" font-size="7.6" text-anchor="end" stroke="#111" stroke-width="0.12">10</text>
<text x="416" y="422.4" font-size="4.8" stroke="#111" stroke-width="0.1">4</text>
<line x1="420.7" y1="419" x2="422" y2="419" stroke="#111" stroke-width="0.8"/>
<line x1="420.7" y1="416.9" x2="422" y2="416.9" stroke="#111" stroke-width="0.8"/>
<line x1="420.7" y1="415.41" x2="422" y2="415.41" stroke="#111" stroke-width="0.8"/>
<line x1="420.7" y1="414.25" x2="422" y2="414.25" stroke="#111" stroke-width="0.8"/>
<line x1="420.7" y1="413.3" x2="422" y2="413.3" stroke="#111" stroke-width="0.8"/>
<line x1="420.7" y1="412.5" x2="422" y2="412.5" stroke="#111" stroke-width="0.8"/>
<line x1="420.7" y1="411.81" x2="422" y2="411.81" stroke="#111" stroke-width="0.8"/>
<line x1="420.7" y1="411.2" x2="422" y2="411.2" stroke="#111" stroke-width="0.8"/>
<line x1="419.8" y1="410.65" x2="422" y2="410.65" stroke="#111" stroke-width="1.0"/>
<text x="415.7" y="413.25" font-size="7.6" text-anchor="end" stroke="#111" stroke-width="0.12">10</text>
<text x="416" y="410.45" font-size="4.8" stroke="#111" stroke-width="0.1">5</text>
<line x1="423.5" y1="470.4" x2="423.5" y2="472.7" stroke="#111" stroke-width="1.0"/>
<text x="421.5" y="480.4" font-size="7.6" text-anchor="middle" stroke="#111" stroke-width="0.12">10</text>
<text x="425.6" y="477.6" font-size="4.8" stroke="#111" stroke-width="0.1">0</text>
<line x1="427.28" y1="470.4" x2="427.28" y2="471.8" stroke="#111" stroke-width="0.8"/>
<line x1="429.49" y1="470.4" x2="429.49" y2="471.8" stroke="#111" stroke-width="0.8"/>
<line x1="431.06" y1="470.4" x2="431.06" y2="471.8" stroke="#111" stroke-width="0.8"/>
<line x1="432.27" y1="470.4" x2="432.27" y2="471.8" stroke="#111" stroke-width="0.8"/>
<line x1="433.27" y1="470.4" x2="433.27" y2="471.8" stroke="#111" stroke-width="0.8"/>
<line x1="434.11" y1="470.4" x2="434.11" y2="471.8" stroke="#111" stroke-width="0.8"/>
<line x1="434.83" y1="470.4" x2="434.83" y2="471.8" stroke="#111" stroke-width="0.8"/>
<line x1="435.48" y1="470.4" x2="435.48" y2="471.8" stroke="#111" stroke-width="0.8"/>
<line x1="436.05" y1="470.4" x2="436.05" y2="472.7" stroke="#111" stroke-width="1.0"/>
<text x="434.05" y="480.4" font-size="7.6" text-anchor="middle" stroke="#111" stroke-width="0.12">10</text>
<text x="438.15" y="477.6" font-size="4.8" stroke="#111" stroke-width="0.1">1</text>
<line x1="439.83" y1="470.4" x2="439.83" y2="471.8" stroke="#111" stroke-width="0.8"/>
<line x1="442.04" y1="470.4" x2="442.04" y2="471.8" stroke="#111" stroke-width="0.8"/>
<line x1="443.61" y1="470.4" x2="443.61" y2="471.8" stroke="#111" stroke-width="0.8"/>
<line x1="444.82" y1="470.4" x2="444.82" y2="471.8" stroke="#111" stroke-width="0.8"/>
<line x1="445.82" y1="470.4" x2="445.82" y2="471.8" stroke="#111" stroke-width="0.8"/>
<line x1="446.66" y1="470.4" x2="446.66" y2="471.8" stroke="#111" stroke-width="0.8"/>
<line x1="447.38" y1="470.4" x2="447.38" y2="471.8" stroke="#111" stroke-width="0.8"/>
<line x1="448.03" y1="470.4" x2="448.03" y2="471.8" stroke="#111" stroke-width="0.8"/>
<line x1="448.6" y1="470.4" x2="448.6" y2="472.7" stroke="#111" stroke-width="1.0"/>
<text x="446.6" y="480.4" font-size="7.6" text-anchor="middle" stroke="#111" stroke-width="0.12">10</text>
<text x="450.7" y="477.6" font-size="4.8" stroke="#111" stroke-width="0.1">2</text>
<line x1="452.38" y1="470.4" x2="452.38" y2="471.8" stroke="#111" stroke-width="0.8"/>
<line x1="454.59" y1="470.4" x2="454.59" y2="471.8" stroke="#111" stroke-width="0.8"/>
<line x1="456.16" y1="470.4" x2="456.16" y2="471.8" stroke="#111" stroke-width="0.8"/>
<line x1="457.37" y1="470.4" x2="457.37" y2="471.8" stroke="#111" stroke-width="0.8"/>
<line x1="458.37" y1="470.4" x2="458.37" y2="471.8" stroke="#111" stroke-width="0.8"/>
<line x1="459.21" y1="470.4" x2="459.21" y2="471.8" stroke="#111" stroke-width="0.8"/>
<line x1="459.93" y1="470.4" x2="459.93" y2="471.8" stroke="#111" stroke-width="0.8"/>
<line x1="460.58" y1="470.4" x2="460.58" y2="471.8" stroke="#111" stroke-width="0.8"/>
<line x1="461.15" y1="470.4" x2="461.15" y2="472.7" stroke="#111" stroke-width="1.0"/>
<text x="459.15" y="480.4" font-size="7.6" text-anchor="middle" stroke="#111" stroke-width="0.12">10</text>
<text x="463.25" y="477.6" font-size="4.8" stroke="#111" stroke-width="0.1">3</text>
<line x1="464.93" y1="470.4" x2="464.93" y2="471.8" stroke="#111" stroke-width="0.8"/>
<line x1="467.14" y1="470.4" x2="467.14" y2="471.8" stroke="#111" stroke-width="0.8"/>
<line x1="468.71" y1="470.4" x2="468.71" y2="471.8" stroke="#111" stroke-width="0.8"/>
<line x1="469.92" y1="470.4" x2="469.92" y2="471.8" stroke="#111" stroke-width="0.8"/>
<line x1="470.92" y1="470.4" x2="470.92" y2="471.8" stroke="#111" stroke-width="0.8"/>
<line x1="471.76" y1="470.4" x2="471.76" y2="471.8" stroke="#111" stroke-width="0.8"/>
<line x1="472.48" y1="470.4" x2="472.48" y2="471.8" stroke="#111" stroke-width="0.8"/>
<line x1="473.13" y1="470.4" x2="473.13" y2="471.8" stroke="#111" stroke-width="0.8"/>
<line x1="473.7" y1="470.4" x2="473.7" y2="472.7" stroke="#111" stroke-width="1.0"/>
<text x="471.7" y="480.4" font-size="7.6" text-anchor="middle" stroke="#111" stroke-width="0.12">10</text>
<text x="475.8" y="477.6" font-size="4.8" stroke="#111" stroke-width="0.1">4</text>
<line x1="477.48" y1="470.4" x2="477.48" y2="471.8" stroke="#111" stroke-width="0.8"/>
<line x1="479.69" y1="470.4" x2="479.69" y2="471.8" stroke="#111" stroke-width="0.8"/>
<line x1="481.26" y1="470.4" x2="481.26" y2="471.8" stroke="#111" stroke-width="0.8"/>
<line x1="482.47" y1="470.4" x2="482.47" y2="471.8" stroke="#111" stroke-width="0.8"/>
<line x1="483.47" y1="470.4" x2="483.47" y2="471.8" stroke="#111" stroke-width="0.8"/>
<line x1="484.31" y1="470.4" x2="484.31" y2="471.8" stroke="#111" stroke-width="0.8"/>
<line x1="485.03" y1="470.4" x2="485.03" y2="471.8" stroke="#111" stroke-width="0.8"/>
<line x1="485.68" y1="470.4" x2="485.68" y2="471.8" stroke="#111" stroke-width="0.8"/>
<line x1="486.25" y1="470.4" x2="486.25" y2="472.7" stroke="#111" stroke-width="1.0"/>
<text x="484.25" y="480.4" font-size="7.6" text-anchor="middle" stroke="#111" stroke-width="0.12">10</text>
<text x="488.35" y="477.6" font-size="4.8" stroke="#111" stroke-width="0.1">5</text>
<text x="400.7" y="441.3" font-size="8.6" text-anchor="middle" transform="rotate(-90 400.7 441.3)" textLength="16.8" lengthAdjust="spacingAndGlyphs" stroke="#111" stroke-width="0.3">LOX-1</text>
<text x="453.6" y="493.9" font-size="8.6" text-anchor="middle" textLength="14.6" lengthAdjust="spacingAndGlyphs" stroke="#111" stroke-width="0.3">CD15</text>
<line x1="219.8" y1="553.2" x2="219.8" y2="643.2" stroke="#111" stroke-width="1.3"/>
<line x1="215.8" y1="643.2" x2="219.8" y2="643.2" stroke="#111" stroke-width="1.2"/>
<text x="212.9" y="645.9" font-size="7.6" text-anchor="end" stroke="#111" stroke-width="0.12">0</text>
<line x1="215.8" y1="634.2" x2="219.8" y2="634.2" stroke="#111" stroke-width="1.2"/>
<text x="212.9" y="636.9" font-size="7.6" text-anchor="end" stroke="#111" stroke-width="0.12">10</text>
<line x1="215.8" y1="625.2" x2="219.8" y2="625.2" stroke="#111" stroke-width="1.2"/>
<text x="212.9" y="627.9" font-size="7.6" text-anchor="end" stroke="#111" stroke-width="0.12">20</text>
<line x1="215.8" y1="616.2" x2="219.8" y2="616.2" stroke="#111" stroke-width="1.2"/>
<text x="212.9" y="618.9" font-size="7.6" text-anchor="end" stroke="#111" stroke-width="0.12">30</text>
<line x1="215.8" y1="607.2" x2="219.8" y2="607.2" stroke="#111" stroke-width="1.2"/>
<text x="212.9" y="609.9" font-size="7.6" text-anchor="end" stroke="#111" stroke-width="0.12">40</text>
<line x1="215.8" y1="598.2" x2="219.8" y2="598.2" stroke="#111" stroke-width="1.2"/>
<text x="212.9" y="600.9" font-size="7.6" text-anchor="end" stroke="#111" stroke-width="0.12">50</text>
<line x1="215.8" y1="589.2" x2="219.8" y2="589.2" stroke="#111" stroke-width="1.2"/>
<text x="212.9" y="591.9" font-size="7.6" text-anchor="end" stroke="#111" stroke-width="0.12">60</text>
<line x1="215.8" y1="580.2" x2="219.8" y2="580.2" stroke="#111" stroke-width="1.2"/>
<text x="212.9" y="582.9" font-size="7.6" text-anchor="end" stroke="#111" stroke-width="0.12">70</text>
<line x1="215.8" y1="571.2" x2="219.8" y2="571.2" stroke="#111" stroke-width="1.2"/>
<text x="212.9" y="573.9" font-size="7.6" text-anchor="end" stroke="#111" stroke-width="0.12">80</text>
<line x1="215.8" y1="562.2" x2="219.8" y2="562.2" stroke="#111" stroke-width="1.2"/>
<text x="212.9" y="564.9" font-size="7.6" text-anchor="end" stroke="#111" stroke-width="0.12">90</text>
<line x1="215.8" y1="553.2" x2="219.8" y2="553.2" stroke="#111" stroke-width="1.2"/>
<text x="212.9" y="555.9" font-size="7.6" text-anchor="end" stroke="#111" stroke-width="0.12">100</text>
<line x1="215.8" y1="643.2" x2="340.1" y2="643.2" stroke="#111" stroke-width="1.3"/>
<line x1="233" y1="643.2" x2="233" y2="646.4" stroke="#111" stroke-width="1.2"/>
<line x1="256.7" y1="643.2" x2="256.7" y2="646.4" stroke="#111" stroke-width="1.2"/>
<line x1="280.4" y1="643.2" x2="280.4" y2="646.4" stroke="#111" stroke-width="1.2"/>
<line x1="304.1" y1="643.2" x2="304.1" y2="646.4" stroke="#111" stroke-width="1.2"/>
<line x1="327.8" y1="643.2" x2="327.8" y2="646.4" stroke="#111" stroke-width="1.2"/>
<text x="236" y="655.1" font-size="9.6" text-anchor="end" transform="rotate(-45 236 655.1)" stroke="#111" stroke-width="0.15">Normal</text>
<text x="259.5" y="655" font-size="9.6" text-anchor="end" transform="rotate(-45 259.5 655)" stroke="#111" stroke-width="0.15">Pre-KTx</text>
<text x="284.5" y="655.5" font-size="9.6" text-anchor="end" transform="rotate(-45 284.5 655.5)" stroke="#111" stroke-width="0.15">1.5-4 mo</text>
<text x="308.3" y="656.5" font-size="9.6" text-anchor="end" transform="rotate(-45 308.3 656.5)" stroke="#111" stroke-width="0.15">6-12 mo</text>
<text x="334.1" y="656" font-size="9.6" text-anchor="end" transform="rotate(-45 334.1 656)" stroke="#111" stroke-width="0.15">13-24 mo</text>
<text x="189.5" y="595" font-size="10.3" text-anchor="middle" transform="rotate(-90 189.5 595)" textLength="46.5" lengthAdjust="spacingAndGlyphs" stroke="#111" stroke-width="0.3">% LOX-1<tspan font-size="6" dy="-3">+</tspan><tspan dy="3"> cells</tspan></text>
<text x="201.2" y="595" font-size="10.3" text-anchor="middle" transform="rotate(-90 201.2 595)" textLength="63.5" lengthAdjust="spacingAndGlyphs" stroke="#111" stroke-width="0.3">among CD15<tspan font-size="6" dy="-3">+</tspan><tspan dy="3"> MDSCs</tspan></text>
<line x1="233.5" y1="519.5" x2="324.9" y2="519.5" stroke="#111" stroke-width="1.4"/>
<text x="279" y="518.6" font-size="9.5" text-anchor="middle" font-style="italic" stroke="#111" stroke-width="0.15">ns</text>
<line x1="233.5" y1="528" x2="305.4" y2="528" stroke="#111" stroke-width="1.4"/>
<text x="262" y="527.1" font-size="9.5" text-anchor="middle" font-style="italic" stroke="#111" stroke-width="0.15">ns</text>
<line x1="269.4" y1="533.7" x2="322.3" y2="533.7" stroke="#111" stroke-width="1.4"/>
<line x1="261" y1="541.7" x2="305.4" y2="541.7" stroke="#111" stroke-width="1.4"/>
<text x="279" y="540.8" font-size="9.5" text-anchor="middle" font-style="italic" stroke="#111" stroke-width="0.15">ns</text>
<line x1="233.9" y1="544.5" x2="279" y2="544.5" stroke="#111" stroke-width="1.4"/>
<line x1="282" y1="544.5" x2="327.6" y2="544.5" stroke="#111" stroke-width="1.4"/>
<line x1="233.9" y1="552.3" x2="253.6" y2="552.3" stroke="#111" stroke-width="1.4"/>
<text x="245.7" y="551.4" font-size="9.5" text-anchor="middle" font-style="italic" stroke="#111" stroke-width="0.15">ns</text>
<line x1="255.7" y1="552.3" x2="276.8" y2="552.3" stroke="#111" stroke-width="1.4"/>
<line x1="279.6" y1="552.3" x2="301.6" y2="552.3" stroke="#111" stroke-width="1.4"/>
<line x1="304.3" y1="552.3" x2="327.6" y2="552.3" stroke="#111" stroke-width="1.4"/>
<text x="316.4" y="551.4" font-size="9.5" text-anchor="middle" font-style="italic" stroke="#111" stroke-width="0.15">ns</text>
<text x="311.3" y="529.5" font-size="9.5" text-anchor="middle" font-style="italic" stroke="#111" stroke-width="0.15">ns</text>
<circle cx="248.6" cy="541.9" r="1.2" fill="#111"/>
<circle cx="251.85" cy="541.9" r="1.2" fill="#111"/>
<circle cx="255.1" cy="541.9" r="1.2" fill="#111"/>
<circle cx="307.3" cy="541.8" r="1.2" fill="#111"/>
<circle cx="310.55" cy="541.8" r="1.2" fill="#111"/>
<circle cx="313.8" cy="541.8" r="1.2" fill="#111"/>
<circle cx="263.3" cy="549.6" r="1.2" fill="#111"/>
<circle cx="266.55" cy="549.6" r="1.2" fill="#111"/>
<circle cx="269.8" cy="549.6" r="1.2" fill="#111"/>
<circle cx="287.7" cy="549.5" r="1.2" fill="#111"/>
<circle cx="290.95" cy="549.5" r="1.2" fill="#111"/>
<circle cx="294.2" cy="549.5" r="1.2" fill="#111"/>
<circle cx="281.25" cy="68.4" r="1.45" fill="#111"/>
<circle cx="249.25" cy="236.7" r="1.45" fill="#111"/>
<line x1="232.55" y1="629.3" x2="232.55" y2="633.1" stroke="#111" stroke-width="1.3"/>
<line x1="228.7" y1="629.3" x2="236.7" y2="629.3" stroke="#111" stroke-width="1.3"/>
<line x1="232.55" y1="633.1" x2="232.55" y2="636.7" stroke="#111" stroke-width="1.3"/>
<line x1="228.7" y1="636.7" x2="236.7" y2="636.7" stroke="#111" stroke-width="1.3"/>
<line x1="224.8" y1="633.1" x2="240.3" y2="633.1" stroke="#111" stroke-width="1.3"/>
<line x1="256.15" y1="625.8" x2="256.15" y2="629.3" stroke="#111" stroke-width="1.3"/>
<line x1="252" y1="625.8" x2="260" y2="625.8" stroke="#111" stroke-width="1.3"/>
<line x1="256.15" y1="629.3" x2="256.15" y2="633" stroke="#111" stroke-width="1.3"/>
<line x1="252" y1="633" x2="260" y2="633" stroke="#111" stroke-width="1.3"/>
<line x1="248.1" y1="629.3" x2="264.2" y2="629.3" stroke="#111" stroke-width="1.3"/>
<line x1="280.6" y1="578.2" x2="280.6" y2="588" stroke="#111" stroke-width="1.3"/>
<line x1="274.5" y1="578.2" x2="286.8" y2="578.2" stroke="#111" stroke-width="1.3"/>
<line x1="280.6" y1="588" x2="280.6" y2="598.5" stroke="#111" stroke-width="1.3"/>
<line x1="274.5" y1="598.5" x2="286.8" y2="598.5" stroke="#111" stroke-width="1.3"/>
<line x1="271.9" y1="588" x2="289.3" y2="588" stroke="#111" stroke-width="1.3"/>
<line x1="304.75" y1="624.3" x2="304.75" y2="628.8" stroke="#111" stroke-width="1.3"/>
<line x1="297.6" y1="624.3" x2="311.2" y2="624.3" stroke="#111" stroke-width="1.3"/>
<line x1="304.75" y1="628.8" x2="304.75" y2="633" stroke="#111" stroke-width="1.3"/>
<line x1="297.6" y1="633" x2="311.2" y2="633" stroke="#111" stroke-width="1.3"/>
<line x1="295" y1="628.8" x2="314.5" y2="628.8" stroke="#111" stroke-width="1.3"/>
<line x1="320.4" y1="641.5" x2="335" y2="641.5" stroke="#111" stroke-width="1.3"/>
<rect x="60.05" y="137.75" width="4.7" height="4.7" fill="none" stroke="#1f60a0" stroke-width="1.15"/>
<circle cx="62.4" cy="114.6" r="2.15" fill="none" stroke="#cf1f38" stroke-width="1.15"/>
<rect x="53.45" y="159.65" width="4.7" height="4.7" fill="none" stroke="#1f60a0" stroke-width="1.15"/>
<rect x="67.05" y="162.25" width="4.7" height="4.7" fill="none" stroke="#1f60a0" stroke-width="1.15"/>
<rect x="57.15" y="164.15" width="4.7" height="4.7" fill="none" stroke="#1f60a0" stroke-width="1.15"/>
<rect x="61.65" y="165.15" width="4.7" height="4.7" fill="none" stroke="#1f60a0" stroke-width="1.15"/>
<circle cx="57.8" cy="165.5" r="2.15" fill="none" stroke="#cf1f38" stroke-width="1.15"/>
<circle cx="61.8" cy="167.2" r="2.15" fill="none" stroke="#cf1f38" stroke-width="1.15"/>
<circle cx="65.5" cy="166" r="2.15" fill="none" stroke="#cf1f38" stroke-width="1.15"/>
<circle cx="68.5" cy="165" r="2.15" fill="none" stroke="#cf1f38" stroke-width="1.15"/>
<rect x="82.3" y="156.9" width="5.6" height="5.6" fill="#561a6c"/>
<rect x="87.05" y="161.45" width="4.7" height="4.7" fill="none" stroke="#1f60a0" stroke-width="1.15"/>
<rect x="86.65" y="165.15" width="4.7" height="4.7" fill="none" stroke="#1f60a0" stroke-width="1.15"/>
<rect x="95.9" y="162.95" width="5.6" height="5.6" fill="#561a6c"/>
<circle cx="85.6" cy="164.9" r="2.75" fill="#34b64a"/>
<circle cx="90.5" cy="167" r="2.75" fill="#34b64a"/>
<circle cx="92.6" cy="166" r="2.75" fill="#34b64a"/>
<circle cx="95.4" cy="164.5" r="2.75" fill="#34b64a"/>
<circle cx="99.5" cy="160" r="2.75" fill="#34b64a"/>
<rect x="119.95" y="124.25" width="4.7" height="4.7" fill="none" stroke="#1f60a0" stroke-width="1.15"/>
<rect x="115.95" y="149.55" width="4.7" height="4.7" fill="none" stroke="#1f60a0" stroke-width="1.15"/>
<rect x="113.15" y="160.65" width="4.7" height="4.7" fill="none" stroke="#1f60a0" stroke-width="1.15"/>
<rect x="127.35" y="160.15" width="4.7" height="4.7" fill="none" stroke="#1f60a0" stroke-width="1.15"/>
<rect x="117.65" y="165.65" width="4.7" height="4.7" fill="none" stroke="#1f60a0" stroke-width="1.15"/>
<circle cx="126.5" cy="165.75" r="2.15" fill="none" stroke="#cf1f38" stroke-width="1.15"/>
<rect x="116.2" y="105.8" width="5.6" height="5.6" fill="#561a6c"/>
<rect x="115" y="160.5" width="5.6" height="5.6" fill="#561a6c"/>
<circle cx="126" cy="102.4" r="2.75" fill="#34b64a"/>
<circle cx="122.5" cy="118.2" r="2.75" fill="#34b64a"/>
<circle cx="125.6" cy="159.2" r="2.75" fill="#34b64a"/>
<circle cx="122.4" cy="167.7" r="2.75" fill="#34b64a"/>
<rect x="149.75" y="125.65" width="4.7" height="4.7" fill="none" stroke="#1f60a0" stroke-width="1.15"/>
<rect x="153.45" y="133.75" width="4.7" height="4.7" fill="none" stroke="#1f60a0" stroke-width="1.15"/>
<rect x="157.55" y="153.25" width="4.7" height="4.7" fill="none" stroke="#1f60a0" stroke-width="1.15"/>
<rect x="147.65" y="165.65" width="4.7" height="4.7" fill="none" stroke="#1f60a0" stroke-width="1.15"/>
<circle cx="148.8" cy="140.2" r="2.15" fill="none" stroke="#cf1f38" stroke-width="1.15"/>
<circle cx="144.6" cy="152.3" r="2.15" fill="none" stroke="#cf1f38" stroke-width="1.15"/>
<rect x="145.4" y="159.9" width="5.6" height="5.6" fill="#561a6c"/>
<rect x="152.4" y="159" width="5.6" height="5.6" fill="#561a6c"/>
<rect x="149.2" y="163.2" width="5.6" height="5.6" fill="#561a6c"/>
<circle cx="149.5" cy="157.1" r="2.75" fill="#34b64a"/>
<circle cx="154.7" cy="158.8" r="2.75" fill="#34b64a"/>
<circle cx="147.8" cy="166.2" r="2.75" fill="#34b64a"/>
<circle cx="156.9" cy="165.3" r="2.75" fill="#34b64a"/>
<circle cx="230.6" cy="93.9" r="2.15" fill="none" stroke="#cf1f38" stroke-width="1.15"/>
<circle cx="234.7" cy="91.4" r="2.15" fill="none" stroke="#cf1f38" stroke-width="1.15"/>
<circle cx="241.2" cy="89.8" r="2.15" fill="none" stroke="#cf1f38" stroke-width="1.15"/>
<circle cx="238.1" cy="99.1" r="2.15" fill="none" stroke="#cf1f38" stroke-width="1.15"/>
<circle cx="234.5" cy="124.7" r="2.15" fill="none" stroke="#cf1f38" stroke-width="1.15"/>
<circle cx="231.3" cy="135.3" r="2.15" fill="none" stroke="#cf1f38" stroke-width="1.15"/>
<rect x="235.75" y="108.35" width="4.7" height="4.7" fill="none" stroke="#1f60a0" stroke-width="1.15"/>
<rect x="228.25" y="112.25" width="4.7" height="4.7" fill="none" stroke="#1f60a0" stroke-width="1.15"/>
<rect x="236.05" y="127.45" width="4.7" height="4.7" fill="none" stroke="#1f60a0" stroke-width="1.15"/>
<rect x="225.35" y="130.65" width="4.7" height="4.7" fill="none" stroke="#1f60a0" stroke-width="1.15"/>
<rect x="236.25" y="138.25" width="4.7" height="4.7" fill="none" stroke="#1f60a0" stroke-width="1.15"/>
<rect x="231.45" y="165.35" width="4.7" height="4.7" fill="none" stroke="#1f60a0" stroke-width="1.15"/>
<rect x="262.55" y="78.65" width="4.7" height="4.7" fill="none" stroke="#1f60a0" stroke-width="1.15"/>
<rect x="268.75" y="77.15" width="4.7" height="4.7" fill="none" stroke="#1f60a0" stroke-width="1.15"/>
<rect x="270.15" y="81.95" width="4.7" height="4.7" fill="none" stroke="#1f60a0" stroke-width="1.15"/>
<rect x="254.1" y="80.8" width="5.6" height="5.6" fill="#561a6c"/>
<rect x="264.5" y="85.8" width="5.6" height="5.6" fill="#561a6c"/>
<rect x="261.3" y="138.6" width="5.6" height="5.6" fill="#561a6c"/>
<circle cx="257.9" cy="79.5" r="2.75" fill="#34b64a"/>
<circle cx="262.4" cy="87.2" r="2.75" fill="#34b64a"/>
<circle cx="258.4" cy="93.7" r="2.75" fill="#34b64a"/>
<circle cx="264.9" cy="99.9" r="2.75" fill="#34b64a"/>
<circle cx="271.4" cy="98" r="2.75" fill="#34b64a"/>
<circle cx="264.6" cy="127.2" r="2.75" fill="#34b64a"/>
<rect x="295.75" y="77.15" width="4.7" height="4.7" fill="none" stroke="#1f60a0" stroke-width="1.15"/>
<rect x="288.95" y="89.55" width="4.7" height="4.7" fill="none" stroke="#1f60a0" stroke-width="1.15"/>
<rect x="284.45" y="130.05" width="4.7" height="4.7" fill="none" stroke="#1f60a0" stroke-width="1.15"/>
<rect x="300.15" y="128.65" width="4.7" height="4.7" fill="none" stroke="#1f60a0" stroke-width="1.15"/>
<rect x="288.55" y="149.85" width="4.7" height="4.7" fill="none" stroke="#1f60a0" stroke-width="1.15"/>
<rect x="286.35" y="164.35" width="4.7" height="4.7" fill="none" stroke="#1f60a0" stroke-width="1.15"/>
<rect x="294.2" y="130.6" width="5.6" height="5.6" fill="#561a6c"/>
<rect x="292.4" y="164.6" width="5.6" height="5.6" fill="#561a6c"/>
<rect x="299.4" y="164.6" width="5.6" height="5.6" fill="#561a6c"/>
<circle cx="290.9" cy="81.7" r="2.75" fill="#34b64a"/>
<circle cx="298.4" cy="91.9" r="2.75" fill="#34b64a"/>
<circle cx="292.3" cy="136.3" r="2.75" fill="#34b64a"/>
<circle cx="290.9" cy="145" r="2.75" fill="#34b64a"/>
<circle cx="298.4" cy="148.3" r="2.75" fill="#34b64a"/>
<rect x="319.15" y="82.35" width="4.7" height="4.7" fill="none" stroke="#1f60a0" stroke-width="1.15"/>
<rect x="316.05" y="91.05" width="4.7" height="4.7" fill="none" stroke="#1f60a0" stroke-width="1.15"/>
<rect x="325.85" y="121.95" width="4.7" height="4.7" fill="none" stroke="#1f60a0" stroke-width="1.15"/>
<rect x="318.65" y="150.25" width="4.7" height="4.7" fill="none" stroke="#1f60a0" stroke-width="1.15"/>
<circle cx="321" cy="122.9" r="2.15" fill="none" stroke="#cf1f38" stroke-width="1.15"/>
<rect x="329" y="77.6" width="5.6" height="5.6" fill="#561a6c"/>
<rect x="323.9" y="81.9" width="5.6" height="5.6" fill="#561a6c"/>
<rect x="325.7" y="145.1" width="5.6" height="5.6" fill="#561a6c"/>
<circle cx="316.9" cy="81" r="2.75" fill="#34b64a"/>
<circle cx="324.9" cy="96.3" r="2.75" fill="#34b64a"/>
<circle cx="331.4" cy="93.4" r="2.75" fill="#34b64a"/>
<circle cx="328.5" cy="106" r="2.75" fill="#34b64a"/>
<circle cx="321" cy="111.3" r="2.75" fill="#34b64a"/>
<rect x="400.15" y="116.15" width="4.7" height="4.7" fill="none" stroke="#1f60a0" stroke-width="1.15"/>
<rect x="412.65" y="113.45" width="4.7" height="4.7" fill="none" stroke="#1f60a0" stroke-width="1.15"/>
<rect x="399.35" y="135.15" width="4.7" height="4.7" fill="none" stroke="#1f60a0" stroke-width="1.15"/>
<rect x="409.45" y="133.95" width="4.7" height="4.7" fill="none" stroke="#1f60a0" stroke-width="1.15"/>
<rect x="402.95" y="141.95" width="4.7" height="4.7" fill="none" stroke="#1f60a0" stroke-width="1.15"/>
<rect x="410.25" y="145.55" width="4.7" height="4.7" fill="none" stroke="#1f60a0" stroke-width="1.15"/>
<rect x="401.85" y="157.05" width="4.7" height="4.7" fill="none" stroke="#1f60a0" stroke-width="1.15"/>
<circle cx="408.7" cy="122.6" r="2.15" fill="none" stroke="#cf1f38" stroke-width="1.15"/>
<circle cx="405.1" cy="158.4" r="2.15" fill="none" stroke="#cf1f38" stroke-width="1.15"/>
<circle cx="412.3" cy="157.5" r="2.15" fill="none" stroke="#cf1f38" stroke-width="1.15"/>
<circle cx="414" cy="158.7" r="2.15" fill="none" stroke="#cf1f38" stroke-width="1.15"/>
<circle cx="410.4" cy="163" r="2.15" fill="none" stroke="#cf1f38" stroke-width="1.15"/>
<circle cx="407.2" cy="164.9" r="2.15" fill="none" stroke="#cf1f38" stroke-width="1.15"/>
<rect x="431.85" y="164.35" width="4.7" height="4.7" fill="none" stroke="#1f60a0" stroke-width="1.15"/>
<rect x="439.85" y="164.35" width="4.7" height="4.7" fill="none" stroke="#1f60a0" stroke-width="1.15"/>
<rect x="435.5" y="111.1" width="5.6" height="5.6" fill="#561a6c"/>
<rect x="429.3" y="158.8" width="5.6" height="5.6" fill="#561a6c"/>
<rect x="441.6" y="162.8" width="5.6" height="5.6" fill="#561a6c"/>
<circle cx="438.3" cy="122.1" r="2.75" fill="#34b64a"/>
<circle cx="438.3" cy="147.1" r="2.75" fill="#34b64a"/>
<circle cx="434.5" cy="152.9" r="2.75" fill="#34b64a"/>
<circle cx="441.8" cy="158.3" r="2.75" fill="#34b64a"/>
<circle cx="438.6" cy="167.1" r="2.75" fill="#34b64a"/>
<circle cx="440.7" cy="167" r="2.75" fill="#34b64a"/>
<rect x="465.75" y="82.65" width="4.7" height="4.7" fill="none" stroke="#1f60a0" stroke-width="1.15"/>
<rect x="469.05" y="132.55" width="4.7" height="4.7" fill="none" stroke="#1f60a0" stroke-width="1.15"/>
<rect x="465.75" y="156.75" width="4.7" height="4.7" fill="none" stroke="#1f60a0" stroke-width="1.15"/>
<rect x="471.45" y="159.55" width="4.7" height="4.7" fill="none" stroke="#1f60a0" stroke-width="1.15"/>
<rect x="467.65" y="164.65" width="4.7" height="4.7" fill="none" stroke="#1f60a0" stroke-width="1.15"/>
<circle cx="468.1" cy="102.8" r="2.15" fill="none" stroke="#cf1f38" stroke-width="1.15"/>
<rect x="465.3" y="115.4" width="5.6" height="5.6" fill="#561a6c"/>
<rect x="461.4" y="136.4" width="5.6" height="5.6" fill="#561a6c"/>
<rect x="465.3" y="165.7" width="5.6" height="5.6" fill="#561a6c"/>
<circle cx="461.3" cy="160.4" r="2.75" fill="#34b64a"/>
<circle cx="463.7" cy="163.3" r="2.75" fill="#34b64a"/>
<circle cx="465.9" cy="165.6" r="2.75" fill="#34b64a"/>
<circle cx="472" cy="165.6" r="2.75" fill="#34b64a"/>
<rect x="494.95" y="124.25" width="4.7" height="4.7" fill="none" stroke="#1f60a0" stroke-width="1.15"/>
<rect x="491.05" y="159.95" width="4.7" height="4.7" fill="none" stroke="#1f60a0" stroke-width="1.15"/>
<rect x="498.55" y="159.95" width="4.7" height="4.7" fill="none" stroke="#1f60a0" stroke-width="1.15"/>
<circle cx="497" cy="155.8" r="2.15" fill="none" stroke="#cf1f38" stroke-width="1.15"/>
<circle cx="503.2" cy="162.8" r="2.15" fill="none" stroke="#cf1f38" stroke-width="1.15"/>
<circle cx="499.9" cy="166.7" r="2.15" fill="none" stroke="#cf1f38" stroke-width="1.15"/>
<rect x="494.2" y="106.8" width="5.6" height="5.6" fill="#561a6c"/>
<rect x="492.7" y="163.9" width="5.6" height="5.6" fill="#561a6c"/>
<circle cx="505.2" cy="118.7" r="2.75" fill="#34b64a"/>
<circle cx="503.5" cy="149.6" r="2.75" fill="#34b64a"/>
<circle cx="491.2" cy="153.6" r="2.75" fill="#34b64a"/>
<circle cx="491.2" cy="164.5" r="2.75" fill="#34b64a"/>
<rect x="53.25" y="333.65" width="4.7" height="4.7" fill="none" stroke="#1f60a0" stroke-width="1.15"/>
<rect x="63.25" y="333.15" width="4.7" height="4.7" fill="none" stroke="#1f60a0" stroke-width="1.15"/>
<rect x="65.75" y="333.15" width="4.7" height="4.7" fill="none" stroke="#1f60a0" stroke-width="1.15"/>
<circle cx="52.25" cy="334" r="2.15" fill="none" stroke="#cf1f38" stroke-width="1.15"/>
<circle cx="53.75" cy="336.2" r="2.15" fill="none" stroke="#cf1f38" stroke-width="1.15"/>
<circle cx="57.5" cy="336.2" r="2.15" fill="none" stroke="#cf1f38" stroke-width="1.15"/>
<circle cx="60.6" cy="336.2" r="2.15" fill="none" stroke="#cf1f38" stroke-width="1.15"/>
<circle cx="63.1" cy="336.2" r="2.15" fill="none" stroke="#cf1f38" stroke-width="1.15"/>
<rect x="81.6" y="332.7" width="5.6" height="5.6" fill="#561a6c"/>
<rect x="90.95" y="332.7" width="5.6" height="5.6" fill="#561a6c"/>
<circle cx="88.1" cy="335.5" r="2.75" fill="#34b64a"/>
<circle cx="94.4" cy="336" r="2.75" fill="#34b64a"/>
<circle cx="97.5" cy="336" r="2.75" fill="#34b64a"/>
<rect x="125.75" y="330.15" width="4.7" height="4.7" fill="none" stroke="#1f60a0" stroke-width="1.15"/>
<rect x="114.65" y="333.15" width="4.7" height="4.7" fill="none" stroke="#1f60a0" stroke-width="1.15"/>
<rect x="127.65" y="333.65" width="4.7" height="4.7" fill="none" stroke="#1f60a0" stroke-width="1.15"/>
<rect x="119.6" y="282" width="5.6" height="5.6" fill="#561a6c"/>
<circle cx="125" cy="334" r="2.15" fill="none" stroke="#cf1f38" stroke-width="1.15"/>
<circle cx="117.5" cy="336.3" r="2.75" fill="#34b64a"/>
<circle cx="121" cy="336.5" r="2.75" fill="#34b64a"/>
<circle cx="124.5" cy="336.3" r="2.75" fill="#34b64a"/>
<circle cx="128" cy="336.5" r="2.75" fill="#34b64a"/>
<rect x="143.25" y="332.65" width="4.7" height="4.7" fill="none" stroke="#1f60a0" stroke-width="1.15"/>
<rect x="146.7" y="333.7" width="5.6" height="5.6" fill="#561a6c"/>
<rect x="149.7" y="333.7" width="5.6" height="5.6" fill="#561a6c"/>
<rect x="152.7" y="333.7" width="5.6" height="5.6" fill="#561a6c"/>
<rect x="155.2" y="333.7" width="5.6" height="5.6" fill="#561a6c"/>
<circle cx="146.25" cy="336.5" r="2.15" fill="none" stroke="#cf1f38" stroke-width="1.15"/>
<circle cx="160.6" cy="336.5" r="2.15" fill="none" stroke="#cf1f38" stroke-width="1.15"/>
<rect x="235.65" y="332.15" width="4.7" height="4.7" fill="none" stroke="#1f60a0" stroke-width="1.15"/>
<rect x="238.65" y="332.15" width="4.7" height="4.7" fill="none" stroke="#1f60a0" stroke-width="1.15"/>
<rect x="240.15" y="332.65" width="4.7" height="4.7" fill="none" stroke="#1f60a0" stroke-width="1.15"/>
<rect x="237.15" y="334.15" width="4.7" height="4.7" fill="none" stroke="#1f60a0" stroke-width="1.15"/>
<rect x="228.65" y="334.15" width="4.7" height="4.7" fill="none" stroke="#1f60a0" stroke-width="1.15"/>
<rect x="233.65" y="334.65" width="4.7" height="4.7" fill="none" stroke="#1f60a0" stroke-width="1.15"/>
<rect x="231.15" y="335.15" width="4.7" height="4.7" fill="none" stroke="#1f60a0" stroke-width="1.15"/>
<circle cx="234" cy="328.3" r="2.15" fill="none" stroke="#cf1f38" stroke-width="1.15"/>
<circle cx="227" cy="334" r="2.15" fill="none" stroke="#cf1f38" stroke-width="1.15"/>
<circle cx="229" cy="333.5" r="2.15" fill="none" stroke="#cf1f38" stroke-width="1.15"/>
<circle cx="230" cy="335.5" r="2.15" fill="none" stroke="#cf1f38" stroke-width="1.15"/>
<circle cx="232" cy="334.5" r="2.15" fill="none" stroke="#cf1f38" stroke-width="1.15"/>
<circle cx="233" cy="336" r="2.15" fill="none" stroke="#cf1f38" stroke-width="1.15"/>
<circle cx="236" cy="335" r="2.15" fill="none" stroke="#cf1f38" stroke-width="1.15"/>
<rect x="261.65" y="250.15" width="4.7" height="4.7" fill="none" stroke="#1f60a0" stroke-width="1.15"/>
<rect x="254.95" y="319.75" width="4.7" height="4.7" fill="none" stroke="#1f60a0" stroke-width="1.15"/>
<rect x="261.45" y="323.85" width="4.7" height="4.7" fill="none" stroke="#1f60a0" stroke-width="1.15"/>
<rect x="261" y="310.1" width="5.6" height="5.6" fill="#561a6c"/>
<rect x="267.8" y="318.4" width="5.6" height="5.6" fill="#561a6c"/>
<rect x="255.1" y="333.1" width="5.6" height="5.6" fill="#561a6c"/>
<circle cx="259.6" cy="333.1" r="2.75" fill="#34b64a"/>
<circle cx="263" cy="335.5" r="2.75" fill="#34b64a"/>
<circle cx="267.9" cy="334.5" r="2.75" fill="#34b64a"/>
<circle cx="270.5" cy="334.5" r="2.75" fill="#34b64a"/>
<rect x="298.9" y="333.65" width="4.7" height="4.7" fill="none" stroke="#1f60a0" stroke-width="1.15"/>
<circle cx="294" cy="326.25" r="2.75" fill="#34b64a"/>
<circle cx="287" cy="336.5" r="2.75" fill="#34b64a"/>
<circle cx="291" cy="336.5" r="2.75" fill="#34b64a"/>
<circle cx="295" cy="336.5" r="2.75" fill="#34b64a"/>
<circle cx="298" cy="336" r="2.75" fill="#34b64a"/>
<rect x="317.65" y="319.55" width="4.7" height="4.7" fill="none" stroke="#1f60a0" stroke-width="1.15"/>
<rect x="320.65" y="334.65" width="4.7" height="4.7" fill="none" stroke="#1f60a0" stroke-width="1.15"/>
<circle cx="327.5" cy="325.6" r="2.15" fill="none" stroke="#cf1f38" stroke-width="1.15"/>
<rect x="314.1" y="329.7" width="5.6" height="5.6" fill="#561a6c"/>
<rect x="327.2" y="329.7" width="5.6" height="5.6" fill="#561a6c"/>
<circle cx="320.6" cy="335.6" r="2.75" fill="#34b64a"/>
<circle cx="326.25" cy="335.6" r="2.75" fill="#34b64a"/>
<rect x="405.75" y="326.4" width="4.7" height="4.7" fill="none" stroke="#1f60a0" stroke-width="1.15"/>
<rect x="400.15" y="331.4" width="4.7" height="4.7" fill="none" stroke="#1f60a0" stroke-width="1.15"/>
<rect x="412.05" y="330.75" width="4.7" height="4.7" fill="none" stroke="#1f60a0" stroke-width="1.15"/>
<rect x="405.15" y="331.15" width="4.7" height="4.7" fill="none" stroke="#1f60a0" stroke-width="1.15"/>
<circle cx="401.9" cy="336.3" r="2.15" fill="none" stroke="#cf1f38" stroke-width="1.15"/>
<circle cx="406.9" cy="336.5" r="2.15" fill="none" stroke="#cf1f38" stroke-width="1.15"/>
<circle cx="410.6" cy="335.5" r="2.15" fill="none" stroke="#cf1f38" stroke-width="1.15"/>
<circle cx="412.8" cy="335.8" r="2.15" fill="none" stroke="#cf1f38" stroke-width="1.15"/>
<rect x="434.65" y="336.15" width="4.7" height="4.7" fill="none" stroke="#1f60a0" stroke-width="1.15"/>
<rect x="429.7" y="329.7" width="5.6" height="5.6" fill="#561a6c"/>
<rect x="440.95" y="329.2" width="5.6" height="5.6" fill="#561a6c"/>
<circle cx="431" cy="336.5" r="2.75" fill="#34b64a"/>
<circle cx="434" cy="337" r="2.75" fill="#34b64a"/>
<circle cx="437" cy="337.5" r="2.75" fill="#34b64a"/>
<circle cx="440" cy="337" r="2.75" fill="#34b64a"/>
<circle cx="443" cy="336.5" r="2.75" fill="#34b64a"/>
<circle cx="446" cy="336" r="2.75" fill="#34b64a"/>
<rect x="465.55" y="322.65" width="4.7" height="4.7" fill="none" stroke="#1f60a0" stroke-width="1.15"/>
<rect x="472.05" y="333.65" width="4.7" height="4.7" fill="none" stroke="#1f60a0" stroke-width="1.15"/>
<rect x="460.65" y="336.65" width="4.7" height="4.7" fill="none" stroke="#1f60a0" stroke-width="1.15"/>
<rect x="464.7" y="301.6" width="5.6" height="5.6" fill="#561a6c"/>
<rect x="457.8" y="334.2" width="5.6" height="5.6" fill="#561a6c"/>
<rect x="464.7" y="334.2" width="5.6" height="5.6" fill="#561a6c"/>
<circle cx="466" cy="337.25" r="2.75" fill="#34b64a"/>
<circle cx="473.1" cy="337.5" r="2.75" fill="#34b64a"/>
<rect x="495.55" y="311.4" width="4.7" height="4.7" fill="none" stroke="#1f60a0" stroke-width="1.15"/>
<rect x="489.55" y="335.15" width="4.7" height="4.7" fill="none" stroke="#1f60a0" stroke-width="1.15"/>
<circle cx="503.75" cy="339" r="2.15" fill="none" stroke="#cf1f38" stroke-width="1.15"/>
<rect x="490.95" y="334.2" width="5.6" height="5.6" fill="#561a6c"/>
<rect x="499.7" y="330.2" width="5.6" height="5.6" fill="#561a6c"/>
<circle cx="498.1" cy="338.75" r="2.75" fill="#34b64a"/>
<circle cx="501.25" cy="336" r="2.75" fill="#34b64a"/>
<path d="M232.5 617.9L235.5 620.9L232.5 623.9L229.5 620.9Z" fill="none" stroke="#e0218a" stroke-width="1.1"/>
<path d="M227.6 631.6L230.6 634.6L227.6 637.6L224.6 634.6Z" fill="none" stroke="#e0218a" stroke-width="1.1"/>
<path d="M235 628.4L238 631.4L235 634.4L232 631.4Z" fill="none" stroke="#e0218a" stroke-width="1.1"/>
<path d="M230.8 636.9L233.8 639.9L230.8 642.9L227.8 639.9Z" fill="none" stroke="#e0218a" stroke-width="1.1"/>
<path d="M237.1 636.9L240.1 639.9L237.1 642.9L234.1 639.9Z" fill="none" stroke="#e0218a" stroke-width="1.1"/>
<rect x="250.25" y="610.65" width="4.7" height="4.7" fill="none" stroke="#1f60a0" stroke-width="1.15"/>
<rect x="257.65" y="612.15" width="4.7" height="4.7" fill="none" stroke="#1f60a0" stroke-width="1.15"/>
<rect x="253.85" y="620.65" width="4.7" height="4.7" fill="none" stroke="#1f60a0" stroke-width="1.15"/>
<rect x="248.55" y="625.45" width="4.7" height="4.7" fill="none" stroke="#1f60a0" stroke-width="1.15"/>
<rect x="258.05" y="633.95" width="4.7" height="4.7" fill="none" stroke="#1f60a0" stroke-width="1.15"/>
<rect x="251.65" y="637.55" width="4.7" height="4.7" fill="none" stroke="#1f60a0" stroke-width="1.15"/>
<circle cx="260.4" cy="625.5" r="2.15" fill="none" stroke="#cf1f38" stroke-width="1.15"/>
<circle cx="253" cy="637.2" r="2.15" fill="none" stroke="#cf1f38" stroke-width="1.15"/>
<circle cx="258.7" cy="636.7" r="2.15" fill="none" stroke="#cf1f38" stroke-width="1.15"/>
<rect x="278.05" y="563.05" width="4.7" height="4.7" fill="none" stroke="#1f60a0" stroke-width="1.15"/>
<rect x="274.65" y="623.05" width="4.7" height="4.7" fill="none" stroke="#1f60a0" stroke-width="1.15"/>
<rect x="277.6" y="554.9" width="5.6" height="5.6" fill="#561a6c"/>
<rect x="280.7" y="572.1" width="5.6" height="5.6" fill="#561a6c"/>
<circle cx="276.5" cy="578.9" r="2.75" fill="#34b64a"/>
<circle cx="280.4" cy="592.6" r="2.75" fill="#34b64a"/>
<circle cx="283.5" cy="622.3" r="2.75" fill="#34b64a"/>
<rect x="305.45" y="613.85" width="4.7" height="4.7" fill="none" stroke="#1f60a0" stroke-width="1.15"/>
<rect x="305.45" y="628.85" width="4.7" height="4.7" fill="none" stroke="#1f60a0" stroke-width="1.15"/>
<circle cx="306.2" cy="633.1" r="2.15" fill="none" stroke="#cf1f38" stroke-width="1.15"/>
<rect x="299.4" y="633.4" width="5.6" height="5.6" fill="#561a6c"/>
<circle cx="300.4" cy="610.3" r="2.75" fill="#34b64a"/>
<circle cx="304.2" cy="623.5" r="2.75" fill="#34b64a"/>
<circle cx="300.7" cy="631.5" r="2.75" fill="#34b64a"/>
<rect x="321.45" y="634.55" width="4.7" height="4.7" fill="none" stroke="#1f60a0" stroke-width="1.15"/>
<rect x="325.75" y="638.75" width="4.7" height="4.7" fill="none" stroke="#1f60a0" stroke-width="1.15"/>
<circle cx="332.7" cy="639.5" r="2.15" fill="none" stroke="#cf1f38" stroke-width="1.15"/>
</svg></body></html>
